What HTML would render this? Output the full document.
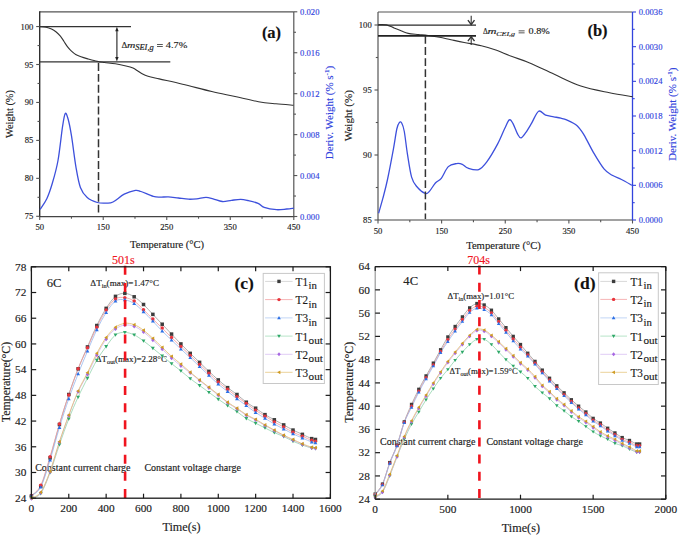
<!DOCTYPE html>
<html><head><meta charset="utf-8"><style>
html,body{margin:0;padding:0;background:#fff;}
body{width:685px;height:535px;overflow:hidden;}
svg{display:block;font-family:"Liberation Serif", serif;}
</style></head><body>
<svg width="685" height="535" viewBox="0 0 685 535">
<rect width="685" height="535" fill="#fff"/>
<line x1="39.70" y1="11.80" x2="293.80" y2="11.80" stroke="#555" stroke-width="1.2" />
<line x1="293.80" y1="11.80" x2="293.80" y2="216.50" stroke="#555" stroke-width="1.2" />
<line x1="39.10" y1="216.50" x2="294.40" y2="216.50" stroke="#444" stroke-width="1.25" />
<line x1="39.70" y1="11.20" x2="39.70" y2="217.10" stroke="#2a2a2a" stroke-width="1.35" />
<line x1="39.70" y1="216.50" x2="39.70" y2="220.00" stroke="#555" stroke-width="1.1" />
<line x1="71.46" y1="216.50" x2="71.46" y2="218.70" stroke="#555" stroke-width="1.1" />
<line x1="103.23" y1="216.50" x2="103.23" y2="220.00" stroke="#555" stroke-width="1.1" />
<line x1="134.99" y1="216.50" x2="134.99" y2="218.70" stroke="#555" stroke-width="1.1" />
<line x1="166.75" y1="216.50" x2="166.75" y2="220.00" stroke="#555" stroke-width="1.1" />
<line x1="198.51" y1="216.50" x2="198.51" y2="218.70" stroke="#555" stroke-width="1.1" />
<line x1="230.27" y1="216.50" x2="230.27" y2="220.00" stroke="#555" stroke-width="1.1" />
<line x1="262.04" y1="216.50" x2="262.04" y2="218.70" stroke="#555" stroke-width="1.1" />
<line x1="293.80" y1="216.50" x2="293.80" y2="220.00" stroke="#555" stroke-width="1.1" />
<text x="39.70" y="230.10" font-size="8.6" fill="#1a1a1a" stroke="#1a1a1a" stroke-width="0.15" text-anchor="middle" font-weight="normal" font-style="normal" >50</text>
<text x="103.23" y="230.10" font-size="8.6" fill="#1a1a1a" stroke="#1a1a1a" stroke-width="0.15" text-anchor="middle" font-weight="normal" font-style="normal" >150</text>
<text x="166.75" y="230.10" font-size="8.6" fill="#1a1a1a" stroke="#1a1a1a" stroke-width="0.15" text-anchor="middle" font-weight="normal" font-style="normal" >250</text>
<text x="230.27" y="230.10" font-size="8.6" fill="#1a1a1a" stroke="#1a1a1a" stroke-width="0.15" text-anchor="middle" font-weight="normal" font-style="normal" >350</text>
<text x="293.80" y="230.10" font-size="8.6" fill="#1a1a1a" stroke="#1a1a1a" stroke-width="0.15" text-anchor="middle" font-weight="normal" font-style="normal" >450</text>
<line x1="36.20" y1="216.30" x2="39.70" y2="216.30" stroke="#555" stroke-width="1.1" />
<line x1="37.50" y1="197.33" x2="39.70" y2="197.33" stroke="#555" stroke-width="1.1" />
<line x1="36.20" y1="178.35" x2="39.70" y2="178.35" stroke="#555" stroke-width="1.1" />
<line x1="37.50" y1="159.38" x2="39.70" y2="159.38" stroke="#555" stroke-width="1.1" />
<line x1="36.20" y1="140.40" x2="39.70" y2="140.40" stroke="#555" stroke-width="1.1" />
<line x1="37.50" y1="121.43" x2="39.70" y2="121.43" stroke="#555" stroke-width="1.1" />
<line x1="36.20" y1="102.45" x2="39.70" y2="102.45" stroke="#555" stroke-width="1.1" />
<line x1="37.50" y1="83.48" x2="39.70" y2="83.48" stroke="#555" stroke-width="1.1" />
<line x1="36.20" y1="64.50" x2="39.70" y2="64.50" stroke="#555" stroke-width="1.1" />
<line x1="37.50" y1="45.53" x2="39.70" y2="45.53" stroke="#555" stroke-width="1.1" />
<line x1="36.20" y1="26.55" x2="39.70" y2="26.55" stroke="#555" stroke-width="1.1" />
<text x="33.40" y="219.30" font-size="8.6" fill="#1a1a1a" stroke="#1a1a1a" stroke-width="0.15" text-anchor="end" font-weight="normal" font-style="normal" >75</text>
<text x="33.40" y="181.35" font-size="8.6" fill="#1a1a1a" stroke="#1a1a1a" stroke-width="0.15" text-anchor="end" font-weight="normal" font-style="normal" >80</text>
<text x="33.40" y="143.40" font-size="8.6" fill="#1a1a1a" stroke="#1a1a1a" stroke-width="0.15" text-anchor="end" font-weight="normal" font-style="normal" >85</text>
<text x="33.40" y="105.45" font-size="8.6" fill="#1a1a1a" stroke="#1a1a1a" stroke-width="0.15" text-anchor="end" font-weight="normal" font-style="normal" >90</text>
<text x="33.40" y="67.50" font-size="8.6" fill="#1a1a1a" stroke="#1a1a1a" stroke-width="0.15" text-anchor="end" font-weight="normal" font-style="normal" >95</text>
<text x="33.40" y="29.55" font-size="8.6" fill="#1a1a1a" stroke="#1a1a1a" stroke-width="0.15" text-anchor="end" font-weight="normal" font-style="normal" >100</text>
<line x1="293.80" y1="216.50" x2="297.30" y2="216.50" stroke="#555" stroke-width="1.1" />
<line x1="293.80" y1="196.03" x2="296.00" y2="196.03" stroke="#555" stroke-width="1.1" />
<line x1="293.80" y1="175.56" x2="297.30" y2="175.56" stroke="#555" stroke-width="1.1" />
<line x1="293.80" y1="155.09" x2="296.00" y2="155.09" stroke="#555" stroke-width="1.1" />
<line x1="293.80" y1="134.62" x2="297.30" y2="134.62" stroke="#555" stroke-width="1.1" />
<line x1="293.80" y1="114.15" x2="296.00" y2="114.15" stroke="#555" stroke-width="1.1" />
<line x1="293.80" y1="93.68" x2="297.30" y2="93.68" stroke="#555" stroke-width="1.1" />
<line x1="293.80" y1="73.21" x2="296.00" y2="73.21" stroke="#555" stroke-width="1.1" />
<line x1="293.80" y1="52.74" x2="297.30" y2="52.74" stroke="#555" stroke-width="1.1" />
<line x1="293.80" y1="32.27" x2="296.00" y2="32.27" stroke="#555" stroke-width="1.1" />
<line x1="293.80" y1="11.80" x2="297.30" y2="11.80" stroke="#555" stroke-width="1.1" />
<text x="300.10" y="219.50" font-size="8.6" fill="#3344dd" stroke="#3344dd" stroke-width="0.15" text-anchor="start" font-weight="normal" font-style="normal" >0.000</text>
<text x="300.10" y="178.56" font-size="8.6" fill="#3344dd" stroke="#3344dd" stroke-width="0.15" text-anchor="start" font-weight="normal" font-style="normal" >0.004</text>
<text x="300.10" y="137.62" font-size="8.6" fill="#3344dd" stroke="#3344dd" stroke-width="0.15" text-anchor="start" font-weight="normal" font-style="normal" >0.008</text>
<text x="300.10" y="96.68" font-size="8.6" fill="#3344dd" stroke="#3344dd" stroke-width="0.15" text-anchor="start" font-weight="normal" font-style="normal" >0.012</text>
<text x="300.10" y="55.74" font-size="8.6" fill="#3344dd" stroke="#3344dd" stroke-width="0.15" text-anchor="start" font-weight="normal" font-style="normal" >0.016</text>
<text x="300.10" y="14.80" font-size="8.6" fill="#3344dd" stroke="#3344dd" stroke-width="0.15" text-anchor="start" font-weight="normal" font-style="normal" >0.020</text>
<text transform="translate(12.6,114) rotate(-90)" font-size="10.4" fill="#222" stroke="#222" stroke-width="0.15" text-anchor="middle">Weight (%)</text>
<text transform="translate(332.9,112.5) rotate(-90)" font-size="11.0" fill="#3344dd" stroke="#3344dd" stroke-width="0.15" text-anchor="middle">Deriv. Weight (% s<tspan font-size="7" dy="-4">-1</tspan><tspan dy="4">)</tspan></text>
<text x="167.00" y="247.60" font-size="10.52" fill="#222" stroke="#222" stroke-width="0.15" text-anchor="middle" font-weight="normal" font-style="normal" >Temperature (°C)</text>
<text x="271.50" y="38.30" font-size="16.5" fill="#111" stroke="#111" stroke-width="0.15" text-anchor="middle" font-weight="bold" font-style="normal" >(a)</text>
<path d="M40.00,209.50 C41.13,207.70 44.73,203.12 46.80,198.70 C48.87,194.28 50.53,189.37 52.40,183.00 C54.27,176.63 56.32,169.85 58.00,160.50 C59.68,151.15 61.30,134.72 62.50,126.90 C63.70,119.08 64.27,114.92 65.20,113.60 C66.13,112.28 67.05,115.28 68.10,119.00 C69.15,122.72 70.18,127.85 71.50,135.90 C72.82,143.95 74.52,158.72 76.00,167.30 C77.48,175.88 78.53,182.37 80.40,187.40 C82.27,192.43 84.38,194.98 87.20,197.50 C90.02,200.02 94.13,201.57 97.30,202.50 C100.47,203.43 103.58,203.18 106.20,203.10 C108.82,203.02 110.00,203.48 113.00,202.00 C116.00,200.52 120.47,196.13 124.20,194.20 C127.93,192.27 132.60,190.85 135.40,190.40 C138.20,189.95 138.02,190.50 141.00,191.50 C143.98,192.50 150.13,195.45 153.30,196.40 C156.47,197.35 157.52,197.13 160.00,197.20 C162.48,197.27 165.13,196.67 168.20,196.80 C171.27,196.93 175.00,197.60 178.40,198.00 C181.80,198.40 185.53,199.07 188.60,199.20 C191.67,199.33 193.90,199.10 196.80,198.80 C199.70,198.50 203.28,197.40 206.00,197.40 C208.72,197.40 210.38,198.12 213.10,198.80 C215.82,199.48 219.23,201.25 222.30,201.50 C225.37,201.75 228.43,200.65 231.50,200.30 C234.57,199.95 237.97,199.37 240.70,199.40 C243.43,199.43 245.00,199.85 247.90,200.50 C250.80,201.15 255.38,202.15 258.10,203.30 C260.82,204.45 261.13,206.33 264.20,207.40 C267.27,208.47 272.75,209.43 276.50,209.70 C280.25,209.97 283.80,209.25 286.70,209.00 C289.60,208.75 292.70,208.33 293.90,208.20" fill="none" stroke="#3d50dc" stroke-width="1.3"/>
<path d="M39.70,26.60 C40.77,26.70 44.13,26.80 46.10,27.20 C48.07,27.60 49.87,28.25 51.50,29.00 C53.13,29.75 54.42,30.52 55.90,31.70 C57.38,32.88 59.05,34.47 60.40,36.10 C61.75,37.73 62.80,39.70 64.00,41.50 C65.20,43.30 66.40,45.33 67.60,46.90 C68.80,48.47 69.85,49.63 71.20,50.90 C72.55,52.17 74.07,53.52 75.70,54.50 C77.33,55.48 78.92,56.05 81.00,56.80 C83.08,57.55 85.50,58.23 88.20,59.00 C90.90,59.77 94.48,60.82 97.20,61.40 C99.92,61.98 101.47,62.10 104.50,62.50 C107.53,62.90 111.82,63.22 115.40,63.80 C118.98,64.38 123.07,65.28 126.00,66.00 C128.93,66.72 131.08,67.30 133.00,68.10 C134.92,68.90 136.05,69.90 137.50,70.80 C138.95,71.70 139.95,72.60 141.70,73.50 C143.45,74.40 145.08,75.30 148.00,76.20 C150.92,77.10 153.43,77.57 159.20,78.90 C164.97,80.23 173.83,82.10 182.60,84.20 C191.37,86.30 203.05,89.45 211.80,91.50 C220.55,93.55 227.32,94.80 235.10,96.50 C242.88,98.20 251.68,100.48 258.50,101.70 C265.32,102.92 270.17,103.22 276.00,103.80 C281.83,104.38 290.58,104.97 293.50,105.20" fill="none" stroke="#333" stroke-width="1.1"/>
<line x1="40.00" y1="26.60" x2="131.00" y2="26.60" stroke="#333" stroke-width="1.2" />
<line x1="40.00" y1="61.80" x2="170.30" y2="61.80" stroke="#333" stroke-width="1.2" />
<line x1="98.50" y1="63.00" x2="98.50" y2="214.00" stroke="#333" stroke-width="1.5" stroke-dasharray="7.9 3"/>
<line x1="116.90" y1="30.50" x2="116.90" y2="58.00" stroke="#333" stroke-width="1.2" />
<path d="M116.9,26.8 L115.2,31.3 L118.6,31.3 Z" fill="#222"/>
<path d="M116.9,61.5 L115.2,57 L118.6,57 Z" fill="#222"/>
<text x="121.5" y="47.8" font-size="9.2" fill="#222" stroke="#222" stroke-width="0.15" textLength="5.8" lengthAdjust="spacingAndGlyphs">Δ</text>
<text x="127.0" y="47.8" font-size="9.2" fill="#222" stroke="#222" stroke-width="0.15" font-style="italic" textLength="8.4" lengthAdjust="spacingAndGlyphs">m</text>
<text x="135.2" y="49.74" font-size="7.2" fill="#222" stroke="#222" stroke-width="0.15" font-style="italic" textLength="18.6" lengthAdjust="spacingAndGlyphs">SEI,g</text>
<path d="M157.00,44.50 h5.80 M157.00,46.50 h5.80" stroke="#444" stroke-width="0.9" fill="none"/>
<text x="165.8" y="47.8" font-size="9.2" fill="#222" stroke="#222" stroke-width="0.15" textLength="21.6" lengthAdjust="spacingAndGlyphs">4.7%</text>
<line x1="378.00" y1="12.00" x2="632.50" y2="12.00" stroke="#555" stroke-width="1.2" />
<line x1="378.00" y1="12.00" x2="378.00" y2="220.00" stroke="#555" stroke-width="1.2" />
<line x1="378.00" y1="220.00" x2="632.50" y2="220.00" stroke="#444" stroke-width="1.2" />
<line x1="632.50" y1="12.00" x2="632.50" y2="220.00" stroke="#3344dd" stroke-width="1.3" />
<line x1="378.00" y1="220.00" x2="378.00" y2="223.50" stroke="#555" stroke-width="1.1" />
<line x1="409.81" y1="220.00" x2="409.81" y2="222.20" stroke="#555" stroke-width="1.1" />
<line x1="441.62" y1="220.00" x2="441.62" y2="223.50" stroke="#555" stroke-width="1.1" />
<line x1="473.44" y1="220.00" x2="473.44" y2="222.20" stroke="#555" stroke-width="1.1" />
<line x1="505.25" y1="220.00" x2="505.25" y2="223.50" stroke="#555" stroke-width="1.1" />
<line x1="537.06" y1="220.00" x2="537.06" y2="222.20" stroke="#555" stroke-width="1.1" />
<line x1="568.88" y1="220.00" x2="568.88" y2="223.50" stroke="#555" stroke-width="1.1" />
<line x1="600.69" y1="220.00" x2="600.69" y2="222.20" stroke="#555" stroke-width="1.1" />
<line x1="632.50" y1="220.00" x2="632.50" y2="223.50" stroke="#555" stroke-width="1.1" />
<text x="378.00" y="234.30" font-size="8.6" fill="#1a1a1a" stroke="#1a1a1a" stroke-width="0.15" text-anchor="middle" font-weight="normal" font-style="normal" >50</text>
<text x="441.62" y="234.30" font-size="8.6" fill="#1a1a1a" stroke="#1a1a1a" stroke-width="0.15" text-anchor="middle" font-weight="normal" font-style="normal" >150</text>
<text x="505.25" y="234.30" font-size="8.6" fill="#1a1a1a" stroke="#1a1a1a" stroke-width="0.15" text-anchor="middle" font-weight="normal" font-style="normal" >250</text>
<text x="568.88" y="234.30" font-size="8.6" fill="#1a1a1a" stroke="#1a1a1a" stroke-width="0.15" text-anchor="middle" font-weight="normal" font-style="normal" >350</text>
<text x="632.50" y="234.30" font-size="8.6" fill="#1a1a1a" stroke="#1a1a1a" stroke-width="0.15" text-anchor="middle" font-weight="normal" font-style="normal" >450</text>
<line x1="374.50" y1="220.00" x2="378.00" y2="220.00" stroke="#555" stroke-width="1.1" />
<line x1="375.80" y1="187.50" x2="378.00" y2="187.50" stroke="#555" stroke-width="1.1" />
<line x1="374.50" y1="155.00" x2="378.00" y2="155.00" stroke="#555" stroke-width="1.1" />
<line x1="375.80" y1="122.50" x2="378.00" y2="122.50" stroke="#555" stroke-width="1.1" />
<line x1="374.50" y1="90.00" x2="378.00" y2="90.00" stroke="#555" stroke-width="1.1" />
<line x1="375.80" y1="57.50" x2="378.00" y2="57.50" stroke="#555" stroke-width="1.1" />
<line x1="374.50" y1="25.00" x2="378.00" y2="25.00" stroke="#555" stroke-width="1.1" />
<text x="371.70" y="223.00" font-size="8.6" fill="#1a1a1a" stroke="#1a1a1a" stroke-width="0.15" text-anchor="end" font-weight="normal" font-style="normal" >85</text>
<text x="371.70" y="158.00" font-size="8.6" fill="#1a1a1a" stroke="#1a1a1a" stroke-width="0.15" text-anchor="end" font-weight="normal" font-style="normal" >90</text>
<text x="371.70" y="93.00" font-size="8.6" fill="#1a1a1a" stroke="#1a1a1a" stroke-width="0.15" text-anchor="end" font-weight="normal" font-style="normal" >95</text>
<text x="371.70" y="28.00" font-size="8.6" fill="#1a1a1a" stroke="#1a1a1a" stroke-width="0.15" text-anchor="end" font-weight="normal" font-style="normal" >100</text>
<line x1="632.50" y1="220.00" x2="636.00" y2="220.00" stroke="#3344dd" stroke-width="1.1" />
<line x1="632.50" y1="202.67" x2="634.70" y2="202.67" stroke="#3344dd" stroke-width="1.1" />
<line x1="632.50" y1="185.33" x2="636.00" y2="185.33" stroke="#3344dd" stroke-width="1.1" />
<line x1="632.50" y1="168.00" x2="634.70" y2="168.00" stroke="#3344dd" stroke-width="1.1" />
<line x1="632.50" y1="150.67" x2="636.00" y2="150.67" stroke="#3344dd" stroke-width="1.1" />
<line x1="632.50" y1="133.33" x2="634.70" y2="133.33" stroke="#3344dd" stroke-width="1.1" />
<line x1="632.50" y1="116.00" x2="636.00" y2="116.00" stroke="#3344dd" stroke-width="1.1" />
<line x1="632.50" y1="98.67" x2="634.70" y2="98.67" stroke="#3344dd" stroke-width="1.1" />
<line x1="632.50" y1="81.33" x2="636.00" y2="81.33" stroke="#3344dd" stroke-width="1.1" />
<line x1="632.50" y1="64.00" x2="634.70" y2="64.00" stroke="#3344dd" stroke-width="1.1" />
<line x1="632.50" y1="46.67" x2="636.00" y2="46.67" stroke="#3344dd" stroke-width="1.1" />
<line x1="632.50" y1="29.33" x2="634.70" y2="29.33" stroke="#3344dd" stroke-width="1.1" />
<line x1="632.50" y1="12.00" x2="636.00" y2="12.00" stroke="#3344dd" stroke-width="1.1" />
<text x="638.80" y="223.00" font-size="8.6" fill="#3344dd" stroke="#3344dd" stroke-width="0.15" text-anchor="start" font-weight="normal" font-style="normal" >0.0000</text>
<text x="638.80" y="188.33" font-size="8.6" fill="#3344dd" stroke="#3344dd" stroke-width="0.15" text-anchor="start" font-weight="normal" font-style="normal" >0.0006</text>
<text x="638.80" y="153.67" font-size="8.6" fill="#3344dd" stroke="#3344dd" stroke-width="0.15" text-anchor="start" font-weight="normal" font-style="normal" >0.0012</text>
<text x="638.80" y="119.00" font-size="8.6" fill="#3344dd" stroke="#3344dd" stroke-width="0.15" text-anchor="start" font-weight="normal" font-style="normal" >0.0018</text>
<text x="638.80" y="84.33" font-size="8.6" fill="#3344dd" stroke="#3344dd" stroke-width="0.15" text-anchor="start" font-weight="normal" font-style="normal" >0.0024</text>
<text x="638.80" y="49.67" font-size="8.6" fill="#3344dd" stroke="#3344dd" stroke-width="0.15" text-anchor="start" font-weight="normal" font-style="normal" >0.0030</text>
<text x="638.80" y="15.00" font-size="8.6" fill="#3344dd" stroke="#3344dd" stroke-width="0.15" text-anchor="start" font-weight="normal" font-style="normal" >0.0036</text>
<text transform="translate(351.6,115.6) rotate(-90)" font-size="11.1" fill="#222" stroke="#222" stroke-width="0.15" text-anchor="middle">Weight (%)</text>
<text transform="translate(675.6,114.2) rotate(-90)" font-size="11.0" fill="#3344dd" stroke="#3344dd" stroke-width="0.15" text-anchor="middle">Deriv. Weight (% s<tspan font-size="7" dy="-4">-1</tspan><tspan dy="4">)</tspan></text>
<text x="503.50" y="249.20" font-size="10.65" fill="#222" stroke="#222" stroke-width="0.15" text-anchor="middle" font-weight="normal" font-style="normal" >Temperature (°C)</text>
<text x="597.50" y="35.50" font-size="16.5" fill="#111" stroke="#111" stroke-width="0.15" text-anchor="middle" font-weight="bold" font-style="normal" >(b)</text>
<path d="M378.60,213.30 C379.32,210.78 381.42,203.83 382.90,198.20 C384.38,192.57 385.75,187.68 387.50,179.50 C389.25,171.32 391.85,157.52 393.40,149.10 C394.95,140.68 395.82,133.42 396.80,129.00 C397.78,124.58 398.47,123.57 399.30,122.60 C400.13,121.63 400.97,121.72 401.80,123.20 C402.63,124.68 403.37,126.40 404.30,131.50 C405.23,136.60 406.18,146.20 407.40,153.80 C408.62,161.40 410.05,171.65 411.60,177.10 C413.15,182.55 414.40,183.77 416.70,186.50 C419.00,189.23 423.25,192.73 425.40,193.50 C427.55,194.27 427.93,192.85 429.60,191.10 C431.27,189.35 433.45,185.13 435.40,183.00 C437.35,180.87 439.15,181.03 441.30,178.30 C443.45,175.57 445.77,169.05 448.30,166.60 C450.83,164.15 454.17,163.98 456.50,163.60 C458.83,163.22 460.35,163.53 462.30,164.30 C464.25,165.07 465.47,167.32 468.20,168.20 C470.93,169.08 475.60,170.65 478.70,169.60 C481.80,168.55 483.68,166.10 486.80,161.90 C489.92,157.70 494.42,149.97 497.40,144.40 C500.38,138.83 502.72,132.58 504.70,128.50 C506.68,124.42 507.93,120.75 509.30,119.90 C510.67,119.05 511.53,121.07 512.90,123.40 C514.27,125.73 516.15,131.48 517.50,133.90 C518.85,136.32 519.63,138.10 521.00,137.90 C522.37,137.70 523.95,135.12 525.70,132.70 C527.45,130.28 529.35,126.98 531.50,123.40 C533.65,119.82 536.25,112.57 538.60,111.20 C540.95,109.83 543.07,114.27 545.60,115.20 C548.13,116.13 551.27,116.30 553.80,116.80 C556.33,117.30 558.67,117.68 560.80,118.20 C562.93,118.72 563.88,118.65 566.60,119.90 C569.32,121.15 574.18,123.17 577.10,125.70 C580.02,128.23 581.37,130.62 584.10,135.10 C586.83,139.58 590.18,146.97 593.50,152.60 C596.82,158.23 600.88,165.12 604.00,168.90 C607.12,172.68 609.28,173.53 612.20,175.30 C615.12,177.07 618.20,177.83 621.50,179.50 C624.80,181.17 630.25,184.33 632.00,185.30" fill="none" stroke="#3d50dc" stroke-width="1.3"/>
<path d="M378.00,24.70 C379.40,24.73 383.73,24.37 386.40,24.90 C389.07,25.43 391.47,26.87 394.00,27.90 C396.53,28.93 399.23,30.18 401.60,31.10 C403.97,32.02 405.35,32.83 408.20,33.40 C411.05,33.97 415.38,34.15 418.70,34.50 C422.02,34.85 424.63,35.05 428.10,35.50 C431.57,35.95 435.70,36.50 439.50,37.20 C443.30,37.90 446.78,38.82 450.90,39.70 C455.02,40.58 459.13,41.50 464.20,42.50 C469.27,43.50 476.17,44.48 481.30,45.70 C486.43,46.92 489.98,48.03 495.00,49.80 C500.02,51.57 505.62,54.12 511.40,56.30 C517.18,58.48 522.55,59.90 529.70,62.90 C536.85,65.90 545.78,70.45 554.30,74.30 C562.82,78.15 571.60,82.93 580.80,86.00 C590.00,89.07 600.90,90.93 609.50,92.70 C618.10,94.47 628.58,95.95 632.40,96.60" fill="none" stroke="#333" stroke-width="1.1"/>
<line x1="378.00" y1="25.00" x2="476.00" y2="25.00" stroke="#2a2a2a" stroke-width="1.25" />
<line x1="378.00" y1="35.90" x2="476.00" y2="35.90" stroke="#222" stroke-width="1.8" />
<line x1="425.40" y1="36.00" x2="425.40" y2="219.00" stroke="#333" stroke-width="1.5" stroke-dasharray="7.8 3.3"/>
<line x1="471.20" y1="15.80" x2="471.20" y2="24.50" stroke="#333" stroke-width="1.1" />
<path d="M467.9,20.2 L471.2,24.6 L474.5,20.2" fill="none" stroke="#333" stroke-width="1.4"/>
<line x1="471.20" y1="36.50" x2="471.20" y2="45.00" stroke="#333" stroke-width="1.1" />
<path d="M467.9,41.1 L471.2,36.7 L474.5,41.1" fill="none" stroke="#333" stroke-width="1.4"/>
<text x="483.1" y="33.8" font-size="7.8" fill="#222" stroke="#222" stroke-width="0.15" textLength="4.8" lengthAdjust="spacingAndGlyphs">Δ</text>
<text x="487.6" y="33.8" font-size="7.8" fill="#222" stroke="#222" stroke-width="0.15" font-style="italic" textLength="9.0" lengthAdjust="spacingAndGlyphs">m</text>
<text x="496.3" y="35.58" font-size="6.6" fill="#222" stroke="#222" stroke-width="0.15" font-style="italic" textLength="18.8" lengthAdjust="spacingAndGlyphs">CEI,g</text>
<path d="M518.60,30.85 h6.00 M518.60,32.85 h6.00" stroke="#444" stroke-width="0.9" fill="none"/>
<text x="528.6" y="33.8" font-size="7.8" fill="#222" stroke="#222" stroke-width="0.15" textLength="21.2" lengthAdjust="spacingAndGlyphs">0.8%</text>
<text x="35.20" y="471.00" font-size="10" fill="#222" stroke="#222" stroke-width="0.15" text-anchor="start" font-weight="normal" font-style="normal" >Constant current charge</text>
<text x="144.40" y="471.00" font-size="10" fill="#222" stroke="#222" stroke-width="0.15" text-anchor="start" font-weight="normal" font-style="normal" >Constant voltage charge</text>
<text x="90.3" y="285.9" font-size="9.1" fill="#222" stroke="#222" stroke-width="0.15">ΔT<tspan font-size="6.3" dy="2">in</tspan><tspan dy="-2">(max)=1.47°C</tspan></text>
<text x="95.8" y="362.3" font-size="9.0" fill="#222" stroke="#222" stroke-width="0.15">ΔT<tspan font-size="6.2" dy="2">out</tspan><tspan dy="-2">(max)=2.28°C</tspan></text>
<path d="M31.40,496.06 C32.96,494.41 37.63,492.56 40.74,486.20 C43.86,479.85 46.97,468.20 50.09,457.92 C53.20,447.63 56.32,435.06 59.43,424.49 C62.55,413.92 65.66,403.78 68.78,394.50 C71.89,385.21 75.00,376.71 78.12,368.79 C81.23,360.86 84.35,354.15 87.46,346.93 C90.58,339.72 93.69,331.93 96.81,325.51 C99.92,319.08 103.04,313.22 106.15,308.37 C109.26,303.51 112.38,298.87 115.49,296.37 C118.61,293.87 121.72,293.30 124.84,293.37 C127.95,293.44 131.07,294.94 134.18,296.80 C137.30,298.65 140.41,301.58 143.53,304.51 C146.64,307.44 149.75,311.08 152.87,314.37 C155.98,317.65 159.10,320.94 162.21,324.22 C165.33,327.51 168.44,330.79 171.56,334.08 C174.67,337.36 177.79,340.72 180.90,343.93 C184.01,347.15 187.13,350.29 190.24,353.36 C193.36,356.43 196.47,359.36 199.59,362.36 C202.70,365.36 205.82,368.43 208.93,371.36 C212.05,374.29 215.16,377.21 218.28,379.93 C221.39,382.64 224.50,385.21 227.62,387.64 C230.73,390.07 233.85,392.07 236.96,394.50 C240.08,396.93 243.19,399.93 246.31,402.21 C249.42,404.50 252.54,406.14 255.65,408.21 C258.76,410.28 261.88,412.71 264.99,414.64 C268.11,416.57 271.22,418.07 274.34,419.78 C277.45,421.50 280.57,423.21 283.68,424.92 C286.80,426.64 289.91,428.49 293.02,430.07 C296.14,431.64 299.25,432.92 302.37,434.35 C305.48,435.78 309.53,437.78 311.71,438.64 C313.89,439.49 314.83,439.35 315.45,439.49" fill="none" stroke="#9a9a9a" stroke-width="0.8"/>
<path d="M31.40,495.63 C32.96,493.91 37.63,491.84 40.74,485.34 C43.86,478.85 46.97,466.85 50.09,456.63 C53.20,446.42 56.32,434.35 59.43,424.07 C62.55,413.78 65.66,404.14 68.78,394.93 C71.89,385.71 75.00,376.64 78.12,368.79 C81.23,360.93 84.35,354.72 87.46,347.79 C90.58,340.86 93.69,333.51 96.81,327.22 C99.92,320.94 103.04,314.79 106.15,310.08 C109.26,305.37 112.38,301.01 115.49,298.94 C118.61,296.87 121.72,297.30 124.84,297.65 C127.95,298.01 131.07,299.08 134.18,301.08 C137.30,303.08 140.41,306.65 143.53,309.65 C146.64,312.65 149.75,316.01 152.87,319.08 C155.98,322.15 159.10,325.01 162.21,328.08 C165.33,331.15 168.44,334.43 171.56,337.51 C174.67,340.58 177.79,343.50 180.90,346.50 C184.01,349.50 187.13,352.50 190.24,355.50 C193.36,358.50 196.47,361.54 199.59,364.50 C202.70,367.47 205.82,370.36 208.93,373.29 C212.05,376.22 215.16,379.39 218.28,382.07 C221.39,384.75 224.50,386.93 227.62,389.36 C230.73,391.78 233.85,394.28 236.96,396.64 C240.08,399.00 243.19,401.21 246.31,403.50 C249.42,405.78 252.54,408.25 255.65,410.35 C258.76,412.46 261.88,414.21 264.99,416.14 C268.11,418.07 271.22,420.10 274.34,421.92 C277.45,423.74 280.57,425.35 283.68,427.07 C286.80,428.78 289.91,430.67 293.02,432.21 C296.14,433.74 299.25,434.92 302.37,436.28 C305.48,437.64 309.53,439.53 311.71,440.35 C313.89,441.17 314.83,441.06 315.45,441.21" fill="none" stroke="#f29a9c" stroke-width="0.8"/>
<path d="M31.40,495.41 C32.96,494.02 37.63,492.95 40.74,487.06 C43.86,481.17 46.97,469.99 50.09,460.06 C53.20,450.13 56.32,437.71 59.43,427.49 C62.55,417.28 65.66,407.71 68.78,398.78 C71.89,389.86 75.00,381.86 78.12,373.93 C81.23,366.00 84.35,358.57 87.46,351.22 C90.58,343.86 93.69,336.22 96.81,329.79 C99.92,323.36 103.04,317.44 106.15,312.65 C109.26,307.87 112.38,303.22 115.49,301.08 C118.61,298.94 121.72,299.37 124.84,299.80 C127.95,300.22 131.07,301.65 134.18,303.65 C137.30,305.65 140.41,308.87 143.53,311.79 C146.64,314.72 149.75,318.01 152.87,321.22 C155.98,324.44 159.10,327.94 162.21,331.08 C165.33,334.22 168.44,337.08 171.56,340.08 C174.67,343.08 177.79,346.15 180.90,349.08 C184.01,352.00 187.13,354.72 190.24,357.65 C193.36,360.57 196.47,363.68 199.59,366.64 C202.70,369.61 205.82,372.50 208.93,375.43 C212.05,378.36 215.16,381.54 218.28,384.21 C221.39,386.89 224.50,389.07 227.62,391.50 C230.73,393.93 233.85,396.43 236.96,398.78 C240.08,401.14 243.19,403.35 246.31,405.64 C249.42,407.93 252.54,410.39 255.65,412.50 C258.76,414.60 261.88,416.35 264.99,418.28 C268.11,420.21 271.22,422.28 274.34,424.07 C277.45,425.85 280.57,427.35 283.68,428.99 C286.80,430.64 289.91,432.42 293.02,433.92 C296.14,435.42 299.25,436.64 302.37,437.99 C305.48,439.35 309.53,441.24 311.71,442.06 C313.89,442.89 314.83,442.78 315.45,442.92" fill="none" stroke="#98b8ee" stroke-width="0.8"/>
<path d="M31.40,497.99 C32.96,497.24 37.63,497.74 40.74,493.49 C43.86,489.24 46.97,480.63 50.09,472.49 C53.20,464.35 56.32,453.56 59.43,444.64 C62.55,435.71 65.66,426.85 68.78,418.92 C71.89,411.00 75.00,403.85 78.12,397.07 C81.23,390.28 84.35,384.36 87.46,378.21 C90.58,372.07 93.69,365.50 96.81,360.22 C99.92,354.93 103.04,350.72 106.15,346.50 C109.26,342.29 112.38,337.29 115.49,334.93 C118.61,332.58 121.72,332.36 124.84,332.36 C127.95,332.36 131.07,333.51 134.18,334.93 C137.30,336.36 140.41,338.72 143.53,340.93 C146.64,343.15 149.75,345.72 152.87,348.22 C155.98,350.72 159.10,353.36 162.21,355.93 C165.33,358.50 168.44,361.15 171.56,363.65 C174.67,366.14 177.79,368.43 180.90,370.93 C184.01,373.43 187.13,376.22 190.24,378.64 C193.36,381.07 196.47,383.21 199.59,385.50 C202.70,387.79 205.82,390.07 208.93,392.36 C212.05,394.64 215.16,397.00 218.28,399.21 C221.39,401.43 224.50,403.57 227.62,405.64 C230.73,407.71 233.85,409.50 236.96,411.64 C240.08,413.78 243.19,416.57 246.31,418.50 C249.42,420.42 252.54,421.64 255.65,423.21 C258.76,424.78 261.88,426.35 264.99,427.92 C268.11,429.49 271.22,431.21 274.34,432.64 C277.45,434.07 280.57,435.06 283.68,436.49 C286.80,437.92 289.91,439.78 293.02,441.21 C296.14,442.64 299.25,443.92 302.37,445.06 C305.48,446.21 309.53,447.49 311.71,448.06 C313.89,448.63 314.83,448.42 315.45,448.49" fill="none" stroke="#92d4ad" stroke-width="0.8"/>
<path d="M31.40,498.63 C32.96,497.66 37.63,497.31 40.74,492.84 C43.86,488.38 46.97,480.27 50.09,471.85 C53.20,463.42 56.32,451.63 59.43,442.28 C62.55,432.92 65.66,424.14 68.78,415.71 C71.89,407.28 75.00,398.61 78.12,391.71 C81.23,384.82 84.35,380.46 87.46,374.36 C90.58,368.25 93.69,360.93 96.81,355.07 C99.92,349.22 103.04,343.58 106.15,339.22 C109.26,334.86 112.38,331.29 115.49,328.94 C118.61,326.58 121.72,325.51 124.84,325.08 C127.95,324.65 131.07,325.22 134.18,326.36 C137.30,327.51 140.41,329.65 143.53,331.93 C146.64,334.22 149.75,337.22 152.87,340.08 C155.98,342.93 159.10,346.08 162.21,349.08 C165.33,352.08 168.44,355.29 171.56,358.07 C174.67,360.86 177.79,363.32 180.90,365.79 C184.01,368.25 187.13,370.39 190.24,372.86 C193.36,375.32 196.47,378.07 199.59,380.57 C202.70,383.07 205.82,385.43 208.93,387.86 C212.05,390.28 215.16,392.64 218.28,395.14 C221.39,397.64 224.50,400.57 227.62,402.85 C230.73,405.14 233.85,406.78 236.96,408.85 C240.08,410.93 243.19,413.42 246.31,415.28 C249.42,417.14 252.54,418.28 255.65,420.00 C258.76,421.71 261.88,423.78 264.99,425.57 C268.11,427.35 271.22,428.99 274.34,430.71 C277.45,432.42 280.57,434.28 283.68,435.85 C286.80,437.42 289.91,438.71 293.02,440.14 C296.14,441.56 299.25,443.14 302.37,444.42 C305.48,445.71 309.53,447.21 311.71,447.85 C313.89,448.49 314.83,448.21 315.45,448.28" fill="none" stroke="#cfb2f0" stroke-width="0.8"/>
<path d="M31.40,497.99 C32.96,497.02 37.63,496.66 40.74,492.20 C43.86,487.74 46.97,479.63 50.09,471.20 C53.20,462.78 56.32,450.99 59.43,441.64 C62.55,432.28 65.66,423.49 68.78,415.07 C71.89,406.64 75.00,398.14 78.12,391.07 C81.23,384.00 84.35,378.93 87.46,372.64 C90.58,366.36 93.69,359.22 96.81,353.36 C99.92,347.50 103.04,341.86 106.15,337.51 C109.26,333.15 112.38,329.58 115.49,327.22 C118.61,324.86 121.72,323.79 124.84,323.36 C127.95,322.94 131.07,323.51 134.18,324.65 C137.30,325.79 140.41,327.94 143.53,330.22 C146.64,332.51 149.75,335.51 152.87,338.36 C155.98,341.22 159.10,344.36 162.21,347.36 C165.33,350.36 168.44,353.57 171.56,356.36 C174.67,359.15 177.79,361.43 180.90,364.07 C184.01,366.72 187.13,369.57 190.24,372.22 C193.36,374.86 196.47,377.43 199.59,379.93 C202.70,382.43 205.82,384.79 208.93,387.21 C212.05,389.64 215.16,392.00 218.28,394.50 C221.39,397.00 224.50,399.93 227.62,402.21 C230.73,404.50 233.85,406.14 236.96,408.21 C240.08,410.28 243.19,412.78 246.31,414.64 C249.42,416.50 252.54,417.64 255.65,419.35 C258.76,421.07 261.88,423.14 264.99,424.92 C268.11,426.71 271.22,428.35 274.34,430.07 C277.45,431.78 280.57,433.64 283.68,435.21 C286.80,436.78 289.91,438.06 293.02,439.49 C296.14,440.92 299.25,442.49 302.37,443.78 C305.48,445.06 309.53,446.56 311.71,447.21 C313.89,447.85 314.83,447.56 315.45,447.63" fill="none" stroke="#e2be6c" stroke-width="0.8"/>
<rect x="29.65" y="494.31" width="3.50" height="3.50" fill="#3c3c3c"/>
<rect x="38.99" y="484.45" width="3.50" height="3.50" fill="#3c3c3c"/>
<rect x="48.34" y="456.17" width="3.50" height="3.50" fill="#3c3c3c"/>
<rect x="57.68" y="422.74" width="3.50" height="3.50" fill="#3c3c3c"/>
<rect x="67.03" y="392.75" width="3.50" height="3.50" fill="#3c3c3c"/>
<rect x="76.37" y="367.04" width="3.50" height="3.50" fill="#3c3c3c"/>
<rect x="85.71" y="345.18" width="3.50" height="3.50" fill="#3c3c3c"/>
<rect x="95.06" y="323.76" width="3.50" height="3.50" fill="#3c3c3c"/>
<rect x="104.40" y="306.62" width="3.50" height="3.50" fill="#3c3c3c"/>
<rect x="113.74" y="294.62" width="3.50" height="3.50" fill="#3c3c3c"/>
<rect x="123.09" y="291.62" width="3.50" height="3.50" fill="#3c3c3c"/>
<rect x="132.43" y="295.05" width="3.50" height="3.50" fill="#3c3c3c"/>
<rect x="141.78" y="302.76" width="3.50" height="3.50" fill="#3c3c3c"/>
<rect x="151.12" y="312.62" width="3.50" height="3.50" fill="#3c3c3c"/>
<rect x="160.46" y="322.47" width="3.50" height="3.50" fill="#3c3c3c"/>
<rect x="169.81" y="332.33" width="3.50" height="3.50" fill="#3c3c3c"/>
<rect x="179.15" y="342.18" width="3.50" height="3.50" fill="#3c3c3c"/>
<rect x="188.49" y="351.61" width="3.50" height="3.50" fill="#3c3c3c"/>
<rect x="197.84" y="360.61" width="3.50" height="3.50" fill="#3c3c3c"/>
<rect x="207.18" y="369.61" width="3.50" height="3.50" fill="#3c3c3c"/>
<rect x="216.53" y="378.18" width="3.50" height="3.50" fill="#3c3c3c"/>
<rect x="225.87" y="385.89" width="3.50" height="3.50" fill="#3c3c3c"/>
<rect x="235.21" y="392.75" width="3.50" height="3.50" fill="#3c3c3c"/>
<rect x="244.56" y="400.46" width="3.50" height="3.50" fill="#3c3c3c"/>
<rect x="253.90" y="406.46" width="3.50" height="3.50" fill="#3c3c3c"/>
<rect x="263.24" y="412.89" width="3.50" height="3.50" fill="#3c3c3c"/>
<rect x="272.59" y="418.03" width="3.50" height="3.50" fill="#3c3c3c"/>
<rect x="281.93" y="423.17" width="3.50" height="3.50" fill="#3c3c3c"/>
<rect x="291.27" y="428.32" width="3.50" height="3.50" fill="#3c3c3c"/>
<rect x="300.62" y="432.60" width="3.50" height="3.50" fill="#3c3c3c"/>
<rect x="309.96" y="436.89" width="3.50" height="3.50" fill="#3c3c3c"/>
<rect x="313.70" y="437.74" width="3.50" height="3.50" fill="#3c3c3c"/>
<circle cx="31.40" cy="495.63" r="1.75" fill="#e8333b"/>
<circle cx="40.74" cy="485.34" r="1.75" fill="#e8333b"/>
<circle cx="50.09" cy="456.63" r="1.75" fill="#e8333b"/>
<circle cx="59.43" cy="424.07" r="1.75" fill="#e8333b"/>
<circle cx="68.78" cy="394.93" r="1.75" fill="#e8333b"/>
<circle cx="78.12" cy="368.79" r="1.75" fill="#e8333b"/>
<circle cx="87.46" cy="347.79" r="1.75" fill="#e8333b"/>
<circle cx="96.81" cy="327.22" r="1.75" fill="#e8333b"/>
<circle cx="106.15" cy="310.08" r="1.75" fill="#e8333b"/>
<circle cx="115.49" cy="298.94" r="1.75" fill="#e8333b"/>
<circle cx="124.84" cy="297.65" r="1.75" fill="#e8333b"/>
<circle cx="134.18" cy="301.08" r="1.75" fill="#e8333b"/>
<circle cx="143.53" cy="309.65" r="1.75" fill="#e8333b"/>
<circle cx="152.87" cy="319.08" r="1.75" fill="#e8333b"/>
<circle cx="162.21" cy="328.08" r="1.75" fill="#e8333b"/>
<circle cx="171.56" cy="337.51" r="1.75" fill="#e8333b"/>
<circle cx="180.90" cy="346.50" r="1.75" fill="#e8333b"/>
<circle cx="190.24" cy="355.50" r="1.75" fill="#e8333b"/>
<circle cx="199.59" cy="364.50" r="1.75" fill="#e8333b"/>
<circle cx="208.93" cy="373.29" r="1.75" fill="#e8333b"/>
<circle cx="218.28" cy="382.07" r="1.75" fill="#e8333b"/>
<circle cx="227.62" cy="389.36" r="1.75" fill="#e8333b"/>
<circle cx="236.96" cy="396.64" r="1.75" fill="#e8333b"/>
<circle cx="246.31" cy="403.50" r="1.75" fill="#e8333b"/>
<circle cx="255.65" cy="410.35" r="1.75" fill="#e8333b"/>
<circle cx="264.99" cy="416.14" r="1.75" fill="#e8333b"/>
<circle cx="274.34" cy="421.92" r="1.75" fill="#e8333b"/>
<circle cx="283.68" cy="427.07" r="1.75" fill="#e8333b"/>
<circle cx="293.02" cy="432.21" r="1.75" fill="#e8333b"/>
<circle cx="302.37" cy="436.28" r="1.75" fill="#e8333b"/>
<circle cx="311.71" cy="440.35" r="1.75" fill="#e8333b"/>
<circle cx="315.45" cy="441.21" r="1.75" fill="#e8333b"/>
<path d="M31.40,493.49 L33.32,496.81 L29.47,496.81 Z" fill="#2b6fe6"/>
<path d="M40.74,485.13 L42.67,488.46 L38.82,488.46 Z" fill="#2b6fe6"/>
<path d="M50.09,458.14 L52.01,461.46 L48.16,461.46 Z" fill="#2b6fe6"/>
<path d="M59.43,425.57 L61.36,428.89 L57.51,428.89 Z" fill="#2b6fe6"/>
<path d="M68.78,396.86 L70.70,400.18 L66.85,400.18 Z" fill="#2b6fe6"/>
<path d="M78.12,372.00 L80.04,375.33 L76.19,375.33 Z" fill="#2b6fe6"/>
<path d="M87.46,349.29 L89.39,352.62 L85.54,352.62 Z" fill="#2b6fe6"/>
<path d="M96.81,327.87 L98.73,331.19 L94.88,331.19 Z" fill="#2b6fe6"/>
<path d="M106.15,310.73 L108.08,314.05 L104.23,314.05 Z" fill="#2b6fe6"/>
<path d="M115.49,299.16 L117.42,302.48 L113.57,302.48 Z" fill="#2b6fe6"/>
<path d="M124.84,297.87 L126.76,301.20 L122.91,301.20 Z" fill="#2b6fe6"/>
<path d="M134.18,301.73 L136.11,305.05 L132.26,305.05 Z" fill="#2b6fe6"/>
<path d="M143.53,309.87 L145.45,313.19 L141.60,313.19 Z" fill="#2b6fe6"/>
<path d="M152.87,319.30 L154.79,322.62 L150.94,322.62 Z" fill="#2b6fe6"/>
<path d="M162.21,329.15 L164.14,332.48 L160.29,332.48 Z" fill="#2b6fe6"/>
<path d="M171.56,338.15 L173.48,341.48 L169.63,341.48 Z" fill="#2b6fe6"/>
<path d="M180.90,347.15 L182.83,350.48 L178.97,350.48 Z" fill="#2b6fe6"/>
<path d="M190.24,355.72 L192.17,359.05 L188.32,359.05 Z" fill="#2b6fe6"/>
<path d="M199.59,364.72 L201.51,368.04 L197.66,368.04 Z" fill="#2b6fe6"/>
<path d="M208.93,373.50 L210.86,376.83 L207.01,376.83 Z" fill="#2b6fe6"/>
<path d="M218.28,382.29 L220.20,385.61 L216.35,385.61 Z" fill="#2b6fe6"/>
<path d="M227.62,389.57 L229.54,392.90 L225.69,392.90 Z" fill="#2b6fe6"/>
<path d="M236.96,396.86 L238.89,400.18 L235.04,400.18 Z" fill="#2b6fe6"/>
<path d="M246.31,403.71 L248.23,407.04 L244.38,407.04 Z" fill="#2b6fe6"/>
<path d="M255.65,410.57 L257.57,413.90 L253.72,413.90 Z" fill="#2b6fe6"/>
<path d="M264.99,416.36 L266.92,419.68 L263.07,419.68 Z" fill="#2b6fe6"/>
<path d="M274.34,422.14 L276.26,425.47 L272.41,425.47 Z" fill="#2b6fe6"/>
<path d="M283.68,427.07 L285.61,430.39 L281.76,430.39 Z" fill="#2b6fe6"/>
<path d="M293.02,432.00 L294.95,435.32 L291.10,435.32 Z" fill="#2b6fe6"/>
<path d="M302.37,436.07 L304.29,439.39 L300.44,439.39 Z" fill="#2b6fe6"/>
<path d="M311.71,440.14 L313.64,443.46 L309.79,443.46 Z" fill="#2b6fe6"/>
<path d="M315.45,441.00 L317.38,444.32 L313.52,444.32 Z" fill="#2b6fe6"/>
<path d="M31.40,499.91 L33.32,496.59 L29.47,496.59 Z" fill="#2ea868"/>
<path d="M40.74,495.41 L42.67,492.09 L38.82,492.09 Z" fill="#2ea868"/>
<path d="M50.09,474.41 L52.01,471.09 L48.16,471.09 Z" fill="#2ea868"/>
<path d="M59.43,446.56 L61.36,443.24 L57.51,443.24 Z" fill="#2ea868"/>
<path d="M68.78,420.85 L70.70,417.52 L66.85,417.52 Z" fill="#2ea868"/>
<path d="M78.12,398.99 L80.04,395.67 L76.19,395.67 Z" fill="#2ea868"/>
<path d="M87.46,380.14 L89.39,376.81 L85.54,376.81 Z" fill="#2ea868"/>
<path d="M96.81,362.14 L98.73,358.82 L94.88,358.82 Z" fill="#2ea868"/>
<path d="M106.15,348.43 L108.08,345.10 L104.23,345.10 Z" fill="#2ea868"/>
<path d="M115.49,336.86 L117.42,333.53 L113.57,333.53 Z" fill="#2ea868"/>
<path d="M124.84,334.29 L126.76,330.96 L122.91,330.96 Z" fill="#2ea868"/>
<path d="M134.18,336.86 L136.11,333.53 L132.26,333.53 Z" fill="#2ea868"/>
<path d="M143.53,342.86 L145.45,339.53 L141.60,339.53 Z" fill="#2ea868"/>
<path d="M152.87,350.14 L154.79,346.82 L150.94,346.82 Z" fill="#2ea868"/>
<path d="M162.21,357.86 L164.14,354.53 L160.29,354.53 Z" fill="#2ea868"/>
<path d="M171.56,365.57 L173.48,362.25 L169.63,362.25 Z" fill="#2ea868"/>
<path d="M180.90,372.86 L182.83,369.53 L178.97,369.53 Z" fill="#2ea868"/>
<path d="M190.24,380.57 L192.17,377.24 L188.32,377.24 Z" fill="#2ea868"/>
<path d="M199.59,387.42 L201.51,384.10 L197.66,384.10 Z" fill="#2ea868"/>
<path d="M208.93,394.28 L210.86,390.96 L207.01,390.96 Z" fill="#2ea868"/>
<path d="M218.28,401.14 L220.20,397.81 L216.35,397.81 Z" fill="#2ea868"/>
<path d="M227.62,407.56 L229.54,404.24 L225.69,404.24 Z" fill="#2ea868"/>
<path d="M236.96,413.56 L238.89,410.24 L235.04,410.24 Z" fill="#2ea868"/>
<path d="M246.31,420.42 L248.23,417.10 L244.38,417.10 Z" fill="#2ea868"/>
<path d="M255.65,425.13 L257.57,421.81 L253.72,421.81 Z" fill="#2ea868"/>
<path d="M264.99,429.85 L266.92,426.52 L263.07,426.52 Z" fill="#2ea868"/>
<path d="M274.34,434.56 L276.26,431.24 L272.41,431.24 Z" fill="#2ea868"/>
<path d="M283.68,438.42 L285.61,435.09 L281.76,435.09 Z" fill="#2ea868"/>
<path d="M293.02,443.13 L294.95,439.81 L291.10,439.81 Z" fill="#2ea868"/>
<path d="M302.37,446.99 L304.29,443.66 L300.44,443.66 Z" fill="#2ea868"/>
<path d="M311.71,449.99 L313.64,446.66 L309.79,446.66 Z" fill="#2ea868"/>
<path d="M315.45,450.42 L317.38,447.09 L313.52,447.09 Z" fill="#2ea868"/>
<path d="M31.40,496.53 L33.15,498.63 L31.40,500.73 L29.65,498.63 Z" fill="#a767e2"/>
<path d="M40.74,490.74 L42.49,492.84 L40.74,494.94 L38.99,492.84 Z" fill="#a767e2"/>
<path d="M50.09,469.75 L51.84,471.85 L50.09,473.95 L48.34,471.85 Z" fill="#a767e2"/>
<path d="M59.43,440.18 L61.18,442.28 L59.43,444.38 L57.68,442.28 Z" fill="#a767e2"/>
<path d="M68.78,413.61 L70.53,415.71 L68.78,417.81 L67.03,415.71 Z" fill="#a767e2"/>
<path d="M78.12,389.61 L79.87,391.71 L78.12,393.81 L76.37,391.71 Z" fill="#a767e2"/>
<path d="M87.46,372.26 L89.21,374.36 L87.46,376.46 L85.71,374.36 Z" fill="#a767e2"/>
<path d="M96.81,352.97 L98.56,355.07 L96.81,357.17 L95.06,355.07 Z" fill="#a767e2"/>
<path d="M106.15,337.12 L107.90,339.22 L106.15,341.32 L104.40,339.22 Z" fill="#a767e2"/>
<path d="M115.49,326.84 L117.24,328.94 L115.49,331.04 L113.74,328.94 Z" fill="#a767e2"/>
<path d="M124.84,322.98 L126.59,325.08 L124.84,327.18 L123.09,325.08 Z" fill="#a767e2"/>
<path d="M134.18,324.26 L135.93,326.36 L134.18,328.46 L132.43,326.36 Z" fill="#a767e2"/>
<path d="M143.53,329.83 L145.28,331.93 L143.53,334.03 L141.78,331.93 Z" fill="#a767e2"/>
<path d="M152.87,337.98 L154.62,340.08 L152.87,342.18 L151.12,340.08 Z" fill="#a767e2"/>
<path d="M162.21,346.98 L163.96,349.08 L162.21,351.18 L160.46,349.08 Z" fill="#a767e2"/>
<path d="M171.56,355.97 L173.31,358.07 L171.56,360.17 L169.81,358.07 Z" fill="#a767e2"/>
<path d="M180.90,363.69 L182.65,365.79 L180.90,367.89 L179.15,365.79 Z" fill="#a767e2"/>
<path d="M190.24,370.76 L191.99,372.86 L190.24,374.96 L188.49,372.86 Z" fill="#a767e2"/>
<path d="M199.59,378.47 L201.34,380.57 L199.59,382.67 L197.84,380.57 Z" fill="#a767e2"/>
<path d="M208.93,385.76 L210.68,387.86 L208.93,389.96 L207.18,387.86 Z" fill="#a767e2"/>
<path d="M218.28,393.04 L220.03,395.14 L218.28,397.24 L216.53,395.14 Z" fill="#a767e2"/>
<path d="M227.62,400.75 L229.37,402.85 L227.62,404.95 L225.87,402.85 Z" fill="#a767e2"/>
<path d="M236.96,406.75 L238.71,408.85 L236.96,410.95 L235.21,408.85 Z" fill="#a767e2"/>
<path d="M246.31,413.18 L248.06,415.28 L246.31,417.38 L244.56,415.28 Z" fill="#a767e2"/>
<path d="M255.65,417.90 L257.40,420.00 L255.65,422.10 L253.90,420.00 Z" fill="#a767e2"/>
<path d="M264.99,423.47 L266.74,425.57 L264.99,427.67 L263.24,425.57 Z" fill="#a767e2"/>
<path d="M274.34,428.61 L276.09,430.71 L274.34,432.81 L272.59,430.71 Z" fill="#a767e2"/>
<path d="M283.68,433.75 L285.43,435.85 L283.68,437.95 L281.93,435.85 Z" fill="#a767e2"/>
<path d="M293.02,438.04 L294.77,440.14 L293.02,442.24 L291.27,440.14 Z" fill="#a767e2"/>
<path d="M302.37,442.32 L304.12,444.42 L302.37,446.52 L300.62,444.42 Z" fill="#a767e2"/>
<path d="M311.71,445.75 L313.46,447.85 L311.71,449.95 L309.96,447.85 Z" fill="#a767e2"/>
<path d="M315.45,446.18 L317.20,448.28 L315.45,450.38 L313.70,448.28 Z" fill="#a767e2"/>
<path d="M29.47,497.99 L32.80,496.06 L32.80,499.91 Z" fill="#cf9a20"/>
<path d="M38.82,492.20 L42.14,490.28 L42.14,494.13 Z" fill="#cf9a20"/>
<path d="M48.16,471.20 L51.49,469.28 L51.49,473.13 Z" fill="#cf9a20"/>
<path d="M57.51,441.64 L60.83,439.71 L60.83,443.56 Z" fill="#cf9a20"/>
<path d="M66.85,415.07 L70.18,413.14 L70.18,416.99 Z" fill="#cf9a20"/>
<path d="M76.19,391.07 L79.52,389.15 L79.52,393.00 Z" fill="#cf9a20"/>
<path d="M85.54,372.64 L88.86,370.72 L88.86,374.57 Z" fill="#cf9a20"/>
<path d="M94.88,353.36 L98.21,351.44 L98.21,355.29 Z" fill="#cf9a20"/>
<path d="M104.23,337.51 L107.55,335.58 L107.55,339.43 Z" fill="#cf9a20"/>
<path d="M113.57,327.22 L116.89,325.30 L116.89,329.15 Z" fill="#cf9a20"/>
<path d="M122.91,323.36 L126.24,321.44 L126.24,325.29 Z" fill="#cf9a20"/>
<path d="M132.26,324.65 L135.58,322.72 L135.58,326.57 Z" fill="#cf9a20"/>
<path d="M141.60,330.22 L144.93,328.30 L144.93,332.15 Z" fill="#cf9a20"/>
<path d="M150.94,338.36 L154.27,336.44 L154.27,340.29 Z" fill="#cf9a20"/>
<path d="M160.29,347.36 L163.61,345.44 L163.61,349.29 Z" fill="#cf9a20"/>
<path d="M169.63,356.36 L172.96,354.44 L172.96,358.29 Z" fill="#cf9a20"/>
<path d="M178.97,364.07 L182.30,362.15 L182.30,366.00 Z" fill="#cf9a20"/>
<path d="M188.32,372.22 L191.64,370.29 L191.64,374.14 Z" fill="#cf9a20"/>
<path d="M197.66,379.93 L200.99,378.00 L200.99,381.85 Z" fill="#cf9a20"/>
<path d="M207.01,387.21 L210.33,385.29 L210.33,389.14 Z" fill="#cf9a20"/>
<path d="M216.35,394.50 L219.68,392.57 L219.68,396.42 Z" fill="#cf9a20"/>
<path d="M225.69,402.21 L229.02,400.29 L229.02,404.14 Z" fill="#cf9a20"/>
<path d="M235.04,408.21 L238.36,406.29 L238.36,410.14 Z" fill="#cf9a20"/>
<path d="M244.38,414.64 L247.71,412.71 L247.71,416.56 Z" fill="#cf9a20"/>
<path d="M253.72,419.35 L257.05,417.43 L257.05,421.28 Z" fill="#cf9a20"/>
<path d="M263.07,424.92 L266.39,423.00 L266.39,426.85 Z" fill="#cf9a20"/>
<path d="M272.41,430.07 L275.74,428.14 L275.74,431.99 Z" fill="#cf9a20"/>
<path d="M281.76,435.21 L285.08,433.28 L285.08,437.13 Z" fill="#cf9a20"/>
<path d="M291.10,439.49 L294.42,437.57 L294.42,441.42 Z" fill="#cf9a20"/>
<path d="M300.44,443.78 L303.77,441.85 L303.77,445.70 Z" fill="#cf9a20"/>
<path d="M309.79,447.21 L313.11,445.28 L313.11,449.13 Z" fill="#cf9a20"/>
<path d="M313.52,447.63 L316.85,445.71 L316.85,449.56 Z" fill="#cf9a20"/>
<line x1="125.10" y1="265.70" x2="125.10" y2="498.20" stroke="#f0141e" stroke-width="2.6" stroke-dasharray="9 8.18"/>
<rect x="31.4" y="266.8" width="299.0" height="231.39999999999998" fill="none" stroke="#1a1a1a" stroke-width="1.3"/>
<line x1="31.40" y1="498.20" x2="31.40" y2="493.70" stroke="#1a1a1a" stroke-width="1.2" />
<line x1="31.40" y1="266.80" x2="31.40" y2="271.30" stroke="#1a1a1a" stroke-width="1.2" />
<line x1="68.78" y1="498.20" x2="68.78" y2="493.70" stroke="#1a1a1a" stroke-width="1.2" />
<line x1="68.78" y1="266.80" x2="68.78" y2="271.30" stroke="#1a1a1a" stroke-width="1.2" />
<line x1="106.15" y1="498.20" x2="106.15" y2="493.70" stroke="#1a1a1a" stroke-width="1.2" />
<line x1="106.15" y1="266.80" x2="106.15" y2="271.30" stroke="#1a1a1a" stroke-width="1.2" />
<line x1="143.53" y1="498.20" x2="143.53" y2="493.70" stroke="#1a1a1a" stroke-width="1.2" />
<line x1="143.53" y1="266.80" x2="143.53" y2="271.30" stroke="#1a1a1a" stroke-width="1.2" />
<line x1="180.90" y1="498.20" x2="180.90" y2="493.70" stroke="#1a1a1a" stroke-width="1.2" />
<line x1="180.90" y1="266.80" x2="180.90" y2="271.30" stroke="#1a1a1a" stroke-width="1.2" />
<line x1="218.28" y1="498.20" x2="218.28" y2="493.70" stroke="#1a1a1a" stroke-width="1.2" />
<line x1="218.28" y1="266.80" x2="218.28" y2="271.30" stroke="#1a1a1a" stroke-width="1.2" />
<line x1="255.65" y1="498.20" x2="255.65" y2="493.70" stroke="#1a1a1a" stroke-width="1.2" />
<line x1="255.65" y1="266.80" x2="255.65" y2="271.30" stroke="#1a1a1a" stroke-width="1.2" />
<line x1="293.02" y1="498.20" x2="293.02" y2="493.70" stroke="#1a1a1a" stroke-width="1.2" />
<line x1="293.02" y1="266.80" x2="293.02" y2="271.30" stroke="#1a1a1a" stroke-width="1.2" />
<line x1="330.40" y1="498.20" x2="330.40" y2="493.70" stroke="#1a1a1a" stroke-width="1.2" />
<line x1="330.40" y1="266.80" x2="330.40" y2="271.30" stroke="#1a1a1a" stroke-width="1.2" />
<text x="31.40" y="512.20" font-size="11.3" fill="#1a1a1a" stroke="#1a1a1a" stroke-width="0.15" text-anchor="middle" font-weight="normal" font-style="normal" >0</text>
<text x="68.78" y="512.20" font-size="11.3" fill="#1a1a1a" stroke="#1a1a1a" stroke-width="0.15" text-anchor="middle" font-weight="normal" font-style="normal" >200</text>
<text x="106.15" y="512.20" font-size="11.3" fill="#1a1a1a" stroke="#1a1a1a" stroke-width="0.15" text-anchor="middle" font-weight="normal" font-style="normal" >400</text>
<text x="143.53" y="512.20" font-size="11.3" fill="#1a1a1a" stroke="#1a1a1a" stroke-width="0.15" text-anchor="middle" font-weight="normal" font-style="normal" >600</text>
<text x="180.90" y="512.20" font-size="11.3" fill="#1a1a1a" stroke="#1a1a1a" stroke-width="0.15" text-anchor="middle" font-weight="normal" font-style="normal" >800</text>
<text x="218.28" y="512.20" font-size="11.3" fill="#1a1a1a" stroke="#1a1a1a" stroke-width="0.15" text-anchor="middle" font-weight="normal" font-style="normal" >1000</text>
<text x="255.65" y="512.20" font-size="11.3" fill="#1a1a1a" stroke="#1a1a1a" stroke-width="0.15" text-anchor="middle" font-weight="normal" font-style="normal" >1200</text>
<text x="293.02" y="512.20" font-size="11.3" fill="#1a1a1a" stroke="#1a1a1a" stroke-width="0.15" text-anchor="middle" font-weight="normal" font-style="normal" >1400</text>
<text x="330.40" y="512.20" font-size="11.3" fill="#1a1a1a" stroke="#1a1a1a" stroke-width="0.15" text-anchor="middle" font-weight="normal" font-style="normal" >1600</text>
<line x1="31.40" y1="498.20" x2="36.20" y2="498.20" stroke="#1a1a1a" stroke-width="1.2" />
<line x1="330.40" y1="498.20" x2="325.60" y2="498.20" stroke="#1a1a1a" stroke-width="1.2" />
<line x1="31.40" y1="472.49" x2="36.20" y2="472.49" stroke="#1a1a1a" stroke-width="1.2" />
<line x1="330.40" y1="472.49" x2="325.60" y2="472.49" stroke="#1a1a1a" stroke-width="1.2" />
<line x1="31.40" y1="446.78" x2="36.20" y2="446.78" stroke="#1a1a1a" stroke-width="1.2" />
<line x1="330.40" y1="446.78" x2="325.60" y2="446.78" stroke="#1a1a1a" stroke-width="1.2" />
<line x1="31.40" y1="421.07" x2="36.20" y2="421.07" stroke="#1a1a1a" stroke-width="1.2" />
<line x1="330.40" y1="421.07" x2="325.60" y2="421.07" stroke="#1a1a1a" stroke-width="1.2" />
<line x1="31.40" y1="395.36" x2="36.20" y2="395.36" stroke="#1a1a1a" stroke-width="1.2" />
<line x1="330.40" y1="395.36" x2="325.60" y2="395.36" stroke="#1a1a1a" stroke-width="1.2" />
<line x1="31.40" y1="369.64" x2="36.20" y2="369.64" stroke="#1a1a1a" stroke-width="1.2" />
<line x1="330.40" y1="369.64" x2="325.60" y2="369.64" stroke="#1a1a1a" stroke-width="1.2" />
<line x1="31.40" y1="343.93" x2="36.20" y2="343.93" stroke="#1a1a1a" stroke-width="1.2" />
<line x1="330.40" y1="343.93" x2="325.60" y2="343.93" stroke="#1a1a1a" stroke-width="1.2" />
<line x1="31.40" y1="318.22" x2="36.20" y2="318.22" stroke="#1a1a1a" stroke-width="1.2" />
<line x1="330.40" y1="318.22" x2="325.60" y2="318.22" stroke="#1a1a1a" stroke-width="1.2" />
<line x1="31.40" y1="292.51" x2="36.20" y2="292.51" stroke="#1a1a1a" stroke-width="1.2" />
<line x1="330.40" y1="292.51" x2="325.60" y2="292.51" stroke="#1a1a1a" stroke-width="1.2" />
<line x1="31.40" y1="266.80" x2="36.20" y2="266.80" stroke="#1a1a1a" stroke-width="1.2" />
<line x1="330.40" y1="266.80" x2="325.60" y2="266.80" stroke="#1a1a1a" stroke-width="1.2" />
<text x="26.40" y="502.00" font-size="11.3" fill="#1a1a1a" stroke="#1a1a1a" stroke-width="0.15" text-anchor="end" font-weight="normal" font-style="normal" >24</text>
<text x="26.40" y="476.29" font-size="11.3" fill="#1a1a1a" stroke="#1a1a1a" stroke-width="0.15" text-anchor="end" font-weight="normal" font-style="normal" >30</text>
<text x="26.40" y="450.58" font-size="11.3" fill="#1a1a1a" stroke="#1a1a1a" stroke-width="0.15" text-anchor="end" font-weight="normal" font-style="normal" >36</text>
<text x="26.40" y="424.87" font-size="11.3" fill="#1a1a1a" stroke="#1a1a1a" stroke-width="0.15" text-anchor="end" font-weight="normal" font-style="normal" >42</text>
<text x="26.40" y="399.16" font-size="11.3" fill="#1a1a1a" stroke="#1a1a1a" stroke-width="0.15" text-anchor="end" font-weight="normal" font-style="normal" >48</text>
<text x="26.40" y="373.44" font-size="11.3" fill="#1a1a1a" stroke="#1a1a1a" stroke-width="0.15" text-anchor="end" font-weight="normal" font-style="normal" >54</text>
<text x="26.40" y="347.73" font-size="11.3" fill="#1a1a1a" stroke="#1a1a1a" stroke-width="0.15" text-anchor="end" font-weight="normal" font-style="normal" >60</text>
<text x="26.40" y="322.02" font-size="11.3" fill="#1a1a1a" stroke="#1a1a1a" stroke-width="0.15" text-anchor="end" font-weight="normal" font-style="normal" >66</text>
<text x="26.40" y="296.31" font-size="11.3" fill="#1a1a1a" stroke="#1a1a1a" stroke-width="0.15" text-anchor="end" font-weight="normal" font-style="normal" >72</text>
<text x="26.40" y="270.60" font-size="11.3" fill="#1a1a1a" stroke="#1a1a1a" stroke-width="0.15" text-anchor="end" font-weight="normal" font-style="normal" >78</text>
<text transform="translate(9.7,382) rotate(-90)" font-size="11.9" fill="#222" stroke="#222" stroke-width="0.15" text-anchor="middle">Temperature(°C)</text>
<text x="181.50" y="531.20" font-size="12.2" fill="#222" stroke="#222" stroke-width="0.15" text-anchor="middle" font-weight="normal" font-style="normal" >Time(s)</text>
<text x="123.40" y="264.30" font-size="12" fill="#f0141e" stroke="#f0141e" stroke-width="0.15" text-anchor="middle" font-weight="normal" font-style="normal" >501s</text>
<text x="54.00" y="287.00" font-size="12.6" fill="#222" stroke="#222" stroke-width="0.15" text-anchor="middle" font-weight="normal" font-style="normal" >6C</text>
<rect x="263.2" y="273.4" width="61.19999999999999" height="110.10000000000002" fill="#fff" stroke="#c8c8c8" stroke-width="1"/>
<line x1="265.10" y1="281.40" x2="292.60" y2="281.40" stroke="#d8d8d8" stroke-width="1" />
<rect x="277.30" y="279.70" width="3.40" height="3.40" fill="#3c3c3c"/>
<text x="295.6" y="285.90" font-size="12.2" fill="#1a1a1a" stroke="#1a1a1a" stroke-width="0.15" textLength="12.4" lengthAdjust="spacingAndGlyphs">T1</text>
<text x="308.60" y="289.30" font-size="11.2" fill="#1a1a1a" stroke="#1a1a1a" stroke-width="0.15" textLength="8.4" lengthAdjust="spacingAndGlyphs">in</text>
<line x1="265.10" y1="299.60" x2="292.60" y2="299.60" stroke="#f6b4b6" stroke-width="1" />
<circle cx="279.00" cy="299.60" r="1.70" fill="#e8333b"/>
<text x="295.6" y="304.10" font-size="12.2" fill="#1a1a1a" stroke="#1a1a1a" stroke-width="0.15" textLength="12.4" lengthAdjust="spacingAndGlyphs">T2</text>
<text x="308.60" y="307.50" font-size="11.2" fill="#1a1a1a" stroke="#1a1a1a" stroke-width="0.15" textLength="8.4" lengthAdjust="spacingAndGlyphs">in</text>
<line x1="265.10" y1="317.90" x2="292.60" y2="317.90" stroke="#c2d6f6" stroke-width="1" />
<path d="M279.00,316.03 L280.87,319.26 L277.13,319.26 Z" fill="#2b6fe6"/>
<text x="295.6" y="322.40" font-size="12.2" fill="#1a1a1a" stroke="#1a1a1a" stroke-width="0.15" textLength="12.4" lengthAdjust="spacingAndGlyphs">T3</text>
<text x="308.60" y="325.80" font-size="11.2" fill="#1a1a1a" stroke="#1a1a1a" stroke-width="0.15" textLength="8.4" lengthAdjust="spacingAndGlyphs">in</text>
<line x1="265.10" y1="336.10" x2="292.60" y2="336.10" stroke="#b8e4c8" stroke-width="1" />
<path d="M279.00,337.97 L280.87,334.74 L277.13,334.74 Z" fill="#2ea868"/>
<text x="295.6" y="340.60" font-size="12.2" fill="#1a1a1a" stroke="#1a1a1a" stroke-width="0.15" textLength="12.4" lengthAdjust="spacingAndGlyphs">T1</text>
<text x="308.60" y="344.00" font-size="11.2" fill="#1a1a1a" stroke="#1a1a1a" stroke-width="0.15" textLength="14.2" lengthAdjust="spacingAndGlyphs">out</text>
<line x1="265.10" y1="354.30" x2="292.60" y2="354.30" stroke="#e0ccf6" stroke-width="1" />
<path d="M279.00,352.26 L280.70,354.30 L279.00,356.34 L277.30,354.30 Z" fill="#a767e2"/>
<text x="295.6" y="358.80" font-size="12.2" fill="#1a1a1a" stroke="#1a1a1a" stroke-width="0.15" textLength="12.4" lengthAdjust="spacingAndGlyphs">T2</text>
<text x="308.60" y="362.20" font-size="11.2" fill="#1a1a1a" stroke="#1a1a1a" stroke-width="0.15" textLength="14.2" lengthAdjust="spacingAndGlyphs">out</text>
<line x1="265.10" y1="372.30" x2="292.60" y2="372.30" stroke="#ecd29a" stroke-width="1" />
<path d="M277.13,372.30 L280.36,370.43 L280.36,374.17 Z" fill="#cf9a20"/>
<text x="295.6" y="376.80" font-size="12.2" fill="#1a1a1a" stroke="#1a1a1a" stroke-width="0.15" textLength="12.4" lengthAdjust="spacingAndGlyphs">T3</text>
<text x="308.60" y="380.20" font-size="11.2" fill="#1a1a1a" stroke="#1a1a1a" stroke-width="0.15" textLength="14.2" lengthAdjust="spacingAndGlyphs">out</text>
<text x="244.10" y="289.20" font-size="17.5" fill="#111" stroke="#111" stroke-width="0.15" text-anchor="middle" font-weight="bold" font-style="normal" >(c)</text>
<text x="380.00" y="445.30" font-size="10" fill="#222" stroke="#222" stroke-width="0.15" text-anchor="start" font-weight="normal" font-style="normal" >Constant current charge</text>
<text x="486.40" y="445.30" font-size="10" fill="#222" stroke="#222" stroke-width="0.15" text-anchor="start" font-weight="normal" font-style="normal" >Constant voltage charge</text>
<text x="447.5" y="298.6" font-size="8.8" fill="#222" stroke="#222" stroke-width="0.15">ΔT<tspan font-size="6.1" dy="2">in</tspan><tspan dy="-2">(max)=1.01°C</tspan></text>
<text x="449.6" y="374.0" font-size="8.6" fill="#222" stroke="#222" stroke-width="0.15">ΔT<tspan font-size="6" dy="2">out</tspan><tspan dy="-2">(max)=1.59°C</tspan></text>
<path d="M375.20,493.97 C376.41,492.32 380.04,489.31 382.46,484.08 C384.89,478.85 387.31,469.06 389.73,462.57 C392.15,456.07 394.57,451.90 397.00,445.12 C399.42,438.34 401.84,428.64 404.26,421.86 C406.68,415.08 409.10,409.84 411.52,404.42 C413.95,398.99 416.37,394.05 418.79,389.30 C421.21,384.55 423.63,380.28 426.05,375.92 C428.48,371.56 430.90,367.49 433.32,363.13 C435.74,358.77 438.16,354.12 440.58,349.75 C443.01,345.39 445.43,340.84 447.85,336.96 C450.27,333.08 452.69,329.84 455.12,326.49 C457.54,323.15 459.96,320.00 462.38,316.90 C464.80,313.80 467.22,310.12 469.64,307.89 C472.07,305.66 474.49,304.01 476.91,303.53 C479.33,303.04 481.75,303.86 484.17,304.98 C486.60,306.09 489.02,307.89 491.44,310.21 C493.86,312.54 496.28,316.03 498.70,318.94 C501.13,321.84 503.55,324.75 505.97,327.66 C508.39,330.56 510.81,333.57 513.23,336.38 C515.66,339.19 518.08,341.71 520.50,344.52 C522.92,347.33 525.34,350.43 527.76,353.24 C530.19,356.05 532.61,358.57 535.03,361.38 C537.45,364.20 539.87,367.30 542.29,370.11 C544.72,372.92 547.14,375.63 549.56,378.25 C551.98,380.86 554.40,383.38 556.82,385.81 C559.25,388.23 561.67,390.46 564.09,392.79 C566.51,395.11 568.93,397.53 571.36,399.76 C573.78,401.99 576.20,404.12 578.62,406.16 C581.04,408.20 583.46,409.94 585.88,411.98 C588.31,414.01 590.73,416.53 593.15,418.37 C595.57,420.21 597.99,421.38 600.41,423.02 C602.84,424.67 605.26,426.61 607.68,428.26 C610.10,429.90 612.52,431.36 614.94,432.91 C617.37,434.46 619.79,436.30 622.21,437.56 C624.63,438.82 627.05,439.40 629.47,440.47 C631.90,441.53 635.04,443.38 636.74,443.96 C638.44,444.54 639.16,443.96 639.65,443.96" fill="none" stroke="#9a9a9a" stroke-width="0.8"/>
<path d="M375.20,494.49 C376.41,492.84 380.04,489.84 382.46,484.60 C384.89,479.37 387.31,469.58 389.73,463.09 C392.15,456.60 394.57,452.43 397.00,445.64 C399.42,438.86 401.84,428.96 404.26,422.38 C406.68,415.80 409.10,411.38 411.52,406.16 C413.95,400.94 416.37,395.79 418.79,391.04 C421.21,386.29 423.63,382.03 426.05,377.67 C428.48,373.31 430.90,369.23 433.32,364.87 C435.74,360.51 438.16,355.71 440.58,351.50 C443.01,347.28 445.43,343.31 447.85,339.58 C450.27,335.85 452.69,332.45 455.12,329.11 C457.54,325.77 459.96,322.62 462.38,319.52 C464.80,316.42 467.22,312.73 469.64,310.50 C472.07,308.27 474.49,306.63 476.91,306.14 C479.33,305.66 481.75,306.48 484.17,307.60 C486.60,308.71 489.02,310.50 491.44,312.83 C493.86,315.16 496.28,318.64 498.70,321.55 C501.13,324.46 503.55,327.37 505.97,330.27 C508.39,333.18 510.81,336.19 513.23,339.00 C515.66,341.81 518.08,344.47 520.50,347.14 C522.92,349.80 525.34,352.32 527.76,354.99 C530.19,357.65 532.61,360.32 535.03,363.13 C537.45,365.94 539.87,369.04 542.29,371.85 C544.72,374.66 547.14,377.38 549.56,379.99 C551.98,382.61 554.40,385.13 556.82,387.55 C559.25,389.97 561.67,392.20 564.09,394.53 C566.51,396.86 568.93,399.28 571.36,401.51 C573.78,403.74 576.20,405.87 578.62,407.90 C581.04,409.94 583.46,411.68 585.88,413.72 C588.31,415.75 590.73,418.27 593.15,420.12 C595.57,421.96 597.99,423.12 600.41,424.77 C602.84,426.42 605.26,428.35 607.68,430.00 C610.10,431.65 612.52,433.10 614.94,434.65 C617.37,436.20 619.79,438.05 622.21,439.31 C624.63,440.57 627.05,441.15 629.47,442.21 C631.90,443.28 635.04,445.12 636.74,445.70 C638.44,446.28 639.16,445.70 639.65,445.70" fill="none" stroke="#f29a9c" stroke-width="0.8"/>
<path d="M375.20,494.84 C376.41,493.19 380.04,490.19 382.46,484.95 C384.89,479.72 387.31,469.93 389.73,463.44 C392.15,456.94 394.57,452.78 397.00,445.99 C399.42,439.21 401.84,429.18 404.26,422.73 C406.68,416.29 409.10,412.41 411.52,407.32 C413.95,402.23 416.37,396.95 418.79,392.20 C421.21,387.46 423.63,383.19 426.05,378.83 C428.48,374.47 430.90,370.40 433.32,366.04 C435.74,361.68 438.16,356.73 440.58,352.66 C443.01,348.59 445.43,345.20 447.85,341.61 C450.27,338.03 452.69,334.49 455.12,331.15 C457.54,327.80 459.96,324.65 462.38,321.55 C464.80,318.45 467.22,314.77 469.64,312.54 C472.07,310.31 474.49,308.66 476.91,308.18 C479.33,307.69 481.75,308.52 484.17,309.63 C486.60,310.75 489.02,312.54 491.44,314.86 C493.86,317.19 496.28,320.68 498.70,323.59 C501.13,326.49 503.55,329.40 505.97,332.31 C508.39,335.22 510.81,338.22 513.23,341.03 C515.66,343.84 518.08,346.65 520.50,349.17 C522.92,351.69 525.34,353.63 527.76,356.15 C530.19,358.67 532.61,361.48 535.03,364.29 C537.45,367.10 539.87,370.20 542.29,373.01 C544.72,375.83 547.14,378.54 549.56,381.16 C551.98,383.77 554.40,386.29 556.82,388.72 C559.25,391.14 561.67,393.37 564.09,395.69 C566.51,398.02 568.93,400.44 571.36,402.67 C573.78,404.90 576.20,407.03 578.62,409.07 C581.04,411.10 583.46,412.85 585.88,414.88 C588.31,416.92 590.73,419.44 593.15,421.28 C595.57,423.12 597.99,424.28 600.41,425.93 C602.84,427.58 605.26,429.52 607.68,431.16 C610.10,432.81 612.52,434.27 614.94,435.82 C617.37,437.37 619.79,439.21 622.21,440.47 C624.63,441.73 627.05,442.31 629.47,443.38 C631.90,444.44 635.04,446.28 636.74,446.87 C638.44,447.45 639.16,446.87 639.65,446.87" fill="none" stroke="#98b8ee" stroke-width="0.8"/>
<path d="M375.20,496.87 C376.41,496.10 380.04,495.71 382.46,492.22 C384.89,488.73 387.31,481.85 389.73,475.94 C392.15,470.03 394.57,462.86 397.00,456.75 C399.42,450.64 401.84,444.73 404.26,439.31 C406.68,433.88 409.10,428.74 411.52,424.19 C413.95,419.63 416.37,416.05 418.79,411.98 C421.21,407.90 423.63,403.64 426.05,399.76 C428.48,395.89 430.90,392.30 433.32,388.72 C435.74,385.13 438.16,381.45 440.58,378.25 C443.01,375.05 445.43,372.53 447.85,369.53 C450.27,366.52 452.69,363.13 455.12,360.22 C457.54,357.31 459.96,354.70 462.38,352.08 C464.80,349.46 467.22,346.65 469.64,344.52 C472.07,342.39 474.49,340.16 476.91,339.29 C479.33,338.42 481.75,338.42 484.17,339.29 C486.60,340.16 489.02,342.39 491.44,344.52 C493.86,346.65 496.28,349.56 498.70,352.08 C501.13,354.60 503.55,357.31 505.97,359.64 C508.39,361.97 510.81,364.00 513.23,366.04 C515.66,368.07 518.08,369.82 520.50,371.85 C522.92,373.89 525.34,375.83 527.76,378.25 C530.19,380.67 532.61,383.97 535.03,386.39 C537.45,388.81 539.87,390.75 542.29,392.79 C544.72,394.82 547.14,396.47 549.56,398.60 C551.98,400.73 554.40,403.54 556.82,405.58 C559.25,407.61 561.67,408.97 564.09,410.81 C566.51,412.65 568.93,414.88 571.36,416.63 C573.78,418.37 576.20,419.63 578.62,421.28 C581.04,422.93 583.46,424.77 585.88,426.51 C588.31,428.26 590.73,430.20 593.15,431.75 C595.57,433.30 597.99,434.56 600.41,435.82 C602.84,437.08 605.26,438.05 607.68,439.31 C610.10,440.57 612.52,442.31 614.94,443.38 C617.37,444.44 619.79,444.73 622.21,445.70 C624.63,446.67 627.05,448.12 629.47,449.19 C631.90,450.26 635.04,451.61 636.74,452.10 C638.44,452.58 639.16,452.10 639.65,452.10" fill="none" stroke="#92d4ad" stroke-width="0.8"/>
<path d="M375.20,497.46 C376.41,496.58 380.04,495.90 382.46,492.22 C384.89,488.54 387.31,481.27 389.73,475.36 C392.15,469.45 394.57,463.05 397.00,456.75 C399.42,450.45 401.84,443.38 404.26,437.56 C406.68,431.75 409.10,426.71 411.52,421.86 C413.95,417.01 416.37,412.75 418.79,408.49 C421.21,404.22 423.63,400.35 426.05,396.27 C428.48,392.20 430.90,387.94 433.32,384.06 C435.74,380.19 438.16,376.60 440.58,373.01 C443.01,369.43 445.43,365.84 447.85,362.55 C450.27,359.25 452.69,356.25 455.12,353.24 C457.54,350.24 459.96,347.33 462.38,344.52 C464.80,341.71 467.22,338.71 469.64,336.38 C472.07,334.05 474.49,331.44 476.91,330.57 C479.33,329.69 481.75,330.18 484.17,331.15 C486.60,332.12 489.02,334.44 491.44,336.38 C493.86,338.32 496.28,340.55 498.70,342.78 C501.13,345.01 503.55,347.43 505.97,349.75 C508.39,352.08 510.81,354.41 513.23,356.73 C515.66,359.06 518.08,361.48 520.50,363.71 C522.92,365.94 525.34,367.78 527.76,370.11 C530.19,372.43 532.61,374.95 535.03,377.67 C537.45,380.38 539.87,383.87 542.29,386.39 C544.72,388.91 547.14,390.56 549.56,392.79 C551.98,395.01 554.40,397.63 556.82,399.76 C559.25,401.90 561.67,403.54 564.09,405.58 C566.51,407.61 568.93,409.94 571.36,411.98 C573.78,414.01 576.20,416.05 578.62,417.79 C581.04,419.53 583.46,420.79 585.88,422.44 C588.31,424.09 590.73,425.93 593.15,427.68 C595.57,429.42 597.99,431.36 600.41,432.91 C602.84,434.46 605.26,435.72 607.68,436.98 C610.10,438.24 612.52,439.21 614.94,440.47 C617.37,441.73 619.79,443.28 622.21,444.54 C624.63,445.80 627.05,446.77 629.47,448.03 C631.90,449.29 635.04,451.42 636.74,452.10 C638.44,452.78 639.16,452.10 639.65,452.10" fill="none" stroke="#cfb2f0" stroke-width="0.8"/>
<path d="M375.20,496.29 C376.41,495.42 380.04,494.74 382.46,491.06 C384.89,487.38 387.31,480.11 389.73,474.20 C392.15,468.28 394.57,461.89 397.00,455.59 C399.42,449.29 401.84,442.21 404.26,436.40 C406.68,430.58 409.10,425.54 411.52,420.70 C413.95,415.85 416.37,411.59 418.79,407.32 C421.21,403.06 423.63,399.18 426.05,395.11 C428.48,391.04 430.90,386.78 433.32,382.90 C435.74,379.02 438.16,375.44 440.58,371.85 C443.01,368.27 445.43,364.68 447.85,361.38 C450.27,358.09 452.69,355.08 455.12,352.08 C457.54,349.08 459.96,346.17 462.38,343.36 C464.80,340.55 467.22,337.54 469.64,335.22 C472.07,332.89 474.49,330.27 476.91,329.40 C479.33,328.53 481.75,329.01 484.17,329.98 C486.60,330.95 489.02,333.28 491.44,335.22 C493.86,337.16 496.28,339.38 498.70,341.61 C501.13,343.84 503.55,346.27 505.97,348.59 C508.39,350.92 510.81,353.24 513.23,355.57 C515.66,357.90 518.08,360.32 520.50,362.55 C522.92,364.78 525.34,366.62 527.76,368.94 C530.19,371.27 532.61,373.79 535.03,376.50 C537.45,379.22 539.87,382.71 542.29,385.23 C544.72,387.75 547.14,389.39 549.56,391.62 C551.98,393.85 554.40,396.47 556.82,398.60 C559.25,400.73 561.67,402.38 564.09,404.42 C566.51,406.45 568.93,408.78 571.36,410.81 C573.78,412.85 576.20,414.88 578.62,416.63 C581.04,418.37 583.46,419.63 585.88,421.28 C588.31,422.93 590.73,424.77 593.15,426.51 C595.57,428.26 597.99,430.20 600.41,431.75 C602.84,433.30 605.26,434.56 607.68,435.82 C610.10,437.08 612.52,438.05 614.94,439.31 C617.37,440.57 619.79,442.12 622.21,443.38 C624.63,444.64 627.05,445.61 629.47,446.87 C631.90,448.12 635.04,450.26 636.74,450.94 C638.44,451.61 639.16,450.94 639.65,450.94" fill="none" stroke="#e2be6c" stroke-width="0.8"/>
<rect x="373.55" y="492.32" width="3.30" height="3.30" fill="#3c3c3c"/>
<rect x="380.81" y="482.43" width="3.30" height="3.30" fill="#3c3c3c"/>
<rect x="388.08" y="460.92" width="3.30" height="3.30" fill="#3c3c3c"/>
<rect x="395.35" y="443.47" width="3.30" height="3.30" fill="#3c3c3c"/>
<rect x="402.61" y="420.21" width="3.30" height="3.30" fill="#3c3c3c"/>
<rect x="409.88" y="402.77" width="3.30" height="3.30" fill="#3c3c3c"/>
<rect x="417.14" y="387.65" width="3.30" height="3.30" fill="#3c3c3c"/>
<rect x="424.40" y="374.27" width="3.30" height="3.30" fill="#3c3c3c"/>
<rect x="431.67" y="361.48" width="3.30" height="3.30" fill="#3c3c3c"/>
<rect x="438.94" y="348.10" width="3.30" height="3.30" fill="#3c3c3c"/>
<rect x="446.20" y="335.31" width="3.30" height="3.30" fill="#3c3c3c"/>
<rect x="453.47" y="324.84" width="3.30" height="3.30" fill="#3c3c3c"/>
<rect x="460.73" y="315.25" width="3.30" height="3.30" fill="#3c3c3c"/>
<rect x="468.00" y="306.24" width="3.30" height="3.30" fill="#3c3c3c"/>
<rect x="475.26" y="301.88" width="3.30" height="3.30" fill="#3c3c3c"/>
<rect x="482.52" y="303.33" width="3.30" height="3.30" fill="#3c3c3c"/>
<rect x="489.79" y="308.56" width="3.30" height="3.30" fill="#3c3c3c"/>
<rect x="497.06" y="317.29" width="3.30" height="3.30" fill="#3c3c3c"/>
<rect x="504.32" y="326.01" width="3.30" height="3.30" fill="#3c3c3c"/>
<rect x="511.58" y="334.73" width="3.30" height="3.30" fill="#3c3c3c"/>
<rect x="518.85" y="342.87" width="3.30" height="3.30" fill="#3c3c3c"/>
<rect x="526.12" y="351.59" width="3.30" height="3.30" fill="#3c3c3c"/>
<rect x="533.38" y="359.73" width="3.30" height="3.30" fill="#3c3c3c"/>
<rect x="540.64" y="368.46" width="3.30" height="3.30" fill="#3c3c3c"/>
<rect x="547.91" y="376.60" width="3.30" height="3.30" fill="#3c3c3c"/>
<rect x="555.17" y="384.16" width="3.30" height="3.30" fill="#3c3c3c"/>
<rect x="562.44" y="391.14" width="3.30" height="3.30" fill="#3c3c3c"/>
<rect x="569.71" y="398.11" width="3.30" height="3.30" fill="#3c3c3c"/>
<rect x="576.97" y="404.51" width="3.30" height="3.30" fill="#3c3c3c"/>
<rect x="584.24" y="410.33" width="3.30" height="3.30" fill="#3c3c3c"/>
<rect x="591.50" y="416.72" width="3.30" height="3.30" fill="#3c3c3c"/>
<rect x="598.76" y="421.37" width="3.30" height="3.30" fill="#3c3c3c"/>
<rect x="606.03" y="426.61" width="3.30" height="3.30" fill="#3c3c3c"/>
<rect x="613.29" y="431.26" width="3.30" height="3.30" fill="#3c3c3c"/>
<rect x="620.56" y="435.91" width="3.30" height="3.30" fill="#3c3c3c"/>
<rect x="627.82" y="438.82" width="3.30" height="3.30" fill="#3c3c3c"/>
<rect x="635.09" y="442.31" width="3.30" height="3.30" fill="#3c3c3c"/>
<rect x="638.00" y="442.31" width="3.30" height="3.30" fill="#3c3c3c"/>
<circle cx="375.20" cy="494.49" r="1.65" fill="#e8333b"/>
<circle cx="382.46" cy="484.60" r="1.65" fill="#e8333b"/>
<circle cx="389.73" cy="463.09" r="1.65" fill="#e8333b"/>
<circle cx="397.00" cy="445.64" r="1.65" fill="#e8333b"/>
<circle cx="404.26" cy="422.38" r="1.65" fill="#e8333b"/>
<circle cx="411.52" cy="406.16" r="1.65" fill="#e8333b"/>
<circle cx="418.79" cy="391.04" r="1.65" fill="#e8333b"/>
<circle cx="426.05" cy="377.67" r="1.65" fill="#e8333b"/>
<circle cx="433.32" cy="364.87" r="1.65" fill="#e8333b"/>
<circle cx="440.58" cy="351.50" r="1.65" fill="#e8333b"/>
<circle cx="447.85" cy="339.58" r="1.65" fill="#e8333b"/>
<circle cx="455.12" cy="329.11" r="1.65" fill="#e8333b"/>
<circle cx="462.38" cy="319.52" r="1.65" fill="#e8333b"/>
<circle cx="469.64" cy="310.50" r="1.65" fill="#e8333b"/>
<circle cx="476.91" cy="306.14" r="1.65" fill="#e8333b"/>
<circle cx="484.17" cy="307.60" r="1.65" fill="#e8333b"/>
<circle cx="491.44" cy="312.83" r="1.65" fill="#e8333b"/>
<circle cx="498.70" cy="321.55" r="1.65" fill="#e8333b"/>
<circle cx="505.97" cy="330.27" r="1.65" fill="#e8333b"/>
<circle cx="513.23" cy="339.00" r="1.65" fill="#e8333b"/>
<circle cx="520.50" cy="347.14" r="1.65" fill="#e8333b"/>
<circle cx="527.76" cy="354.99" r="1.65" fill="#e8333b"/>
<circle cx="535.03" cy="363.13" r="1.65" fill="#e8333b"/>
<circle cx="542.29" cy="371.85" r="1.65" fill="#e8333b"/>
<circle cx="549.56" cy="379.99" r="1.65" fill="#e8333b"/>
<circle cx="556.82" cy="387.55" r="1.65" fill="#e8333b"/>
<circle cx="564.09" cy="394.53" r="1.65" fill="#e8333b"/>
<circle cx="571.36" cy="401.51" r="1.65" fill="#e8333b"/>
<circle cx="578.62" cy="407.90" r="1.65" fill="#e8333b"/>
<circle cx="585.88" cy="413.72" r="1.65" fill="#e8333b"/>
<circle cx="593.15" cy="420.12" r="1.65" fill="#e8333b"/>
<circle cx="600.41" cy="424.77" r="1.65" fill="#e8333b"/>
<circle cx="607.68" cy="430.00" r="1.65" fill="#e8333b"/>
<circle cx="614.94" cy="434.65" r="1.65" fill="#e8333b"/>
<circle cx="622.21" cy="439.31" r="1.65" fill="#e8333b"/>
<circle cx="629.47" cy="442.21" r="1.65" fill="#e8333b"/>
<circle cx="636.74" cy="445.70" r="1.65" fill="#e8333b"/>
<circle cx="639.65" cy="445.70" r="1.65" fill="#e8333b"/>
<path d="M375.20,493.02 L377.01,496.16 L373.38,496.16 Z" fill="#2b6fe6"/>
<path d="M382.46,483.14 L384.28,486.27 L380.65,486.27 Z" fill="#2b6fe6"/>
<path d="M389.73,461.62 L391.54,464.76 L387.91,464.76 Z" fill="#2b6fe6"/>
<path d="M397.00,444.18 L398.81,447.31 L395.18,447.31 Z" fill="#2b6fe6"/>
<path d="M404.26,420.92 L406.07,424.05 L402.44,424.05 Z" fill="#2b6fe6"/>
<path d="M411.52,405.51 L413.34,408.64 L409.71,408.64 Z" fill="#2b6fe6"/>
<path d="M418.79,390.39 L420.60,393.52 L416.97,393.52 Z" fill="#2b6fe6"/>
<path d="M426.05,377.01 L427.87,380.15 L424.24,380.15 Z" fill="#2b6fe6"/>
<path d="M433.32,364.22 L435.13,367.36 L431.50,367.36 Z" fill="#2b6fe6"/>
<path d="M440.58,350.85 L442.40,353.98 L438.77,353.98 Z" fill="#2b6fe6"/>
<path d="M447.85,339.80 L449.66,342.93 L446.03,342.93 Z" fill="#2b6fe6"/>
<path d="M455.12,329.33 L456.93,332.47 L453.30,332.47 Z" fill="#2b6fe6"/>
<path d="M462.38,319.74 L464.19,322.87 L460.56,322.87 Z" fill="#2b6fe6"/>
<path d="M469.64,310.72 L471.46,313.86 L467.83,313.86 Z" fill="#2b6fe6"/>
<path d="M476.91,306.36 L478.72,309.50 L475.09,309.50 Z" fill="#2b6fe6"/>
<path d="M484.17,307.82 L485.99,310.95 L482.36,310.95 Z" fill="#2b6fe6"/>
<path d="M491.44,313.05 L493.25,316.18 L489.62,316.18 Z" fill="#2b6fe6"/>
<path d="M498.70,321.77 L500.52,324.91 L496.89,324.91 Z" fill="#2b6fe6"/>
<path d="M505.97,330.49 L507.78,333.63 L504.15,333.63 Z" fill="#2b6fe6"/>
<path d="M513.23,339.22 L515.05,342.35 L511.42,342.35 Z" fill="#2b6fe6"/>
<path d="M520.50,347.36 L522.32,350.49 L518.68,350.49 Z" fill="#2b6fe6"/>
<path d="M527.76,354.34 L529.58,357.47 L525.95,357.47 Z" fill="#2b6fe6"/>
<path d="M535.03,362.48 L536.85,365.61 L533.21,365.61 Z" fill="#2b6fe6"/>
<path d="M542.29,371.20 L544.11,374.33 L540.48,374.33 Z" fill="#2b6fe6"/>
<path d="M549.56,379.34 L551.38,382.48 L547.74,382.48 Z" fill="#2b6fe6"/>
<path d="M556.82,386.90 L558.64,390.04 L555.01,390.04 Z" fill="#2b6fe6"/>
<path d="M564.09,393.88 L565.90,397.01 L562.27,397.01 Z" fill="#2b6fe6"/>
<path d="M571.36,400.86 L573.17,403.99 L569.54,403.99 Z" fill="#2b6fe6"/>
<path d="M578.62,407.25 L580.43,410.39 L576.80,410.39 Z" fill="#2b6fe6"/>
<path d="M585.88,413.07 L587.70,416.20 L584.07,416.20 Z" fill="#2b6fe6"/>
<path d="M593.15,419.46 L594.97,422.60 L591.33,422.60 Z" fill="#2b6fe6"/>
<path d="M600.41,424.12 L602.23,427.25 L598.60,427.25 Z" fill="#2b6fe6"/>
<path d="M607.68,429.35 L609.50,432.48 L605.86,432.48 Z" fill="#2b6fe6"/>
<path d="M614.94,434.00 L616.76,437.14 L613.13,437.14 Z" fill="#2b6fe6"/>
<path d="M622.21,438.65 L624.02,441.79 L620.39,441.79 Z" fill="#2b6fe6"/>
<path d="M629.47,441.56 L631.29,444.70 L627.66,444.70 Z" fill="#2b6fe6"/>
<path d="M636.74,445.05 L638.56,448.19 L634.92,448.19 Z" fill="#2b6fe6"/>
<path d="M639.65,445.05 L641.46,448.19 L637.83,448.19 Z" fill="#2b6fe6"/>
<path d="M375.20,498.69 L377.01,495.55 L373.38,495.55 Z" fill="#2ea868"/>
<path d="M382.46,494.04 L384.28,490.90 L380.65,490.90 Z" fill="#2ea868"/>
<path d="M389.73,477.75 L391.54,474.62 L387.91,474.62 Z" fill="#2ea868"/>
<path d="M397.00,458.57 L398.81,455.43 L395.18,455.43 Z" fill="#2ea868"/>
<path d="M404.26,441.12 L406.07,437.99 L402.44,437.99 Z" fill="#2ea868"/>
<path d="M411.52,426.00 L413.34,422.87 L409.71,422.87 Z" fill="#2ea868"/>
<path d="M418.79,413.79 L420.60,410.66 L416.97,410.66 Z" fill="#2ea868"/>
<path d="M426.05,401.58 L427.87,398.44 L424.24,398.44 Z" fill="#2ea868"/>
<path d="M433.32,390.53 L435.13,387.40 L431.50,387.40 Z" fill="#2ea868"/>
<path d="M440.58,380.06 L442.40,376.93 L438.77,376.93 Z" fill="#2ea868"/>
<path d="M447.85,371.34 L449.66,368.21 L446.03,368.21 Z" fill="#2ea868"/>
<path d="M455.12,362.04 L456.93,358.90 L453.30,358.90 Z" fill="#2ea868"/>
<path d="M462.38,353.90 L464.19,350.76 L460.56,350.76 Z" fill="#2ea868"/>
<path d="M469.64,346.34 L471.46,343.20 L467.83,343.20 Z" fill="#2ea868"/>
<path d="M476.91,341.10 L478.72,337.97 L475.09,337.97 Z" fill="#2ea868"/>
<path d="M484.17,341.10 L485.99,337.97 L482.36,337.97 Z" fill="#2ea868"/>
<path d="M491.44,346.34 L493.25,343.20 L489.62,343.20 Z" fill="#2ea868"/>
<path d="M498.70,353.90 L500.52,350.76 L496.89,350.76 Z" fill="#2ea868"/>
<path d="M505.97,361.45 L507.78,358.32 L504.15,358.32 Z" fill="#2ea868"/>
<path d="M513.23,367.85 L515.05,364.72 L511.42,364.72 Z" fill="#2ea868"/>
<path d="M520.50,373.67 L522.32,370.53 L518.68,370.53 Z" fill="#2ea868"/>
<path d="M527.76,380.06 L529.58,376.93 L525.95,376.93 Z" fill="#2ea868"/>
<path d="M535.03,388.20 L536.85,385.07 L533.21,385.07 Z" fill="#2ea868"/>
<path d="M542.29,394.60 L544.11,391.47 L540.48,391.47 Z" fill="#2ea868"/>
<path d="M549.56,400.42 L551.38,397.28 L547.74,397.28 Z" fill="#2ea868"/>
<path d="M556.82,407.39 L558.64,404.26 L555.01,404.26 Z" fill="#2ea868"/>
<path d="M564.09,412.63 L565.90,409.49 L562.27,409.49 Z" fill="#2ea868"/>
<path d="M571.36,418.44 L573.17,415.31 L569.54,415.31 Z" fill="#2ea868"/>
<path d="M578.62,423.09 L580.43,419.96 L576.80,419.96 Z" fill="#2ea868"/>
<path d="M585.88,428.33 L587.70,425.19 L584.07,425.19 Z" fill="#2ea868"/>
<path d="M593.15,433.56 L594.97,430.43 L591.33,430.43 Z" fill="#2ea868"/>
<path d="M600.41,437.63 L602.23,434.50 L598.60,434.50 Z" fill="#2ea868"/>
<path d="M607.68,441.12 L609.50,437.99 L605.86,437.99 Z" fill="#2ea868"/>
<path d="M614.94,445.19 L616.76,442.06 L613.13,442.06 Z" fill="#2ea868"/>
<path d="M622.21,447.52 L624.02,444.38 L620.39,444.38 Z" fill="#2ea868"/>
<path d="M629.47,451.01 L631.29,447.87 L627.66,447.87 Z" fill="#2ea868"/>
<path d="M636.74,453.91 L638.56,450.78 L634.92,450.78 Z" fill="#2ea868"/>
<path d="M639.65,453.91 L641.46,450.78 L637.83,450.78 Z" fill="#2ea868"/>
<path d="M375.20,495.48 L376.85,497.46 L375.20,499.44 L373.55,497.46 Z" fill="#a767e2"/>
<path d="M382.46,490.24 L384.11,492.22 L382.46,494.20 L380.81,492.22 Z" fill="#a767e2"/>
<path d="M389.73,473.38 L391.38,475.36 L389.73,477.34 L388.08,475.36 Z" fill="#a767e2"/>
<path d="M397.00,454.77 L398.64,456.75 L397.00,458.73 L395.35,456.75 Z" fill="#a767e2"/>
<path d="M404.26,435.58 L405.91,437.56 L404.26,439.54 L402.61,437.56 Z" fill="#a767e2"/>
<path d="M411.52,419.88 L413.17,421.86 L411.52,423.84 L409.88,421.86 Z" fill="#a767e2"/>
<path d="M418.79,406.51 L420.44,408.49 L418.79,410.47 L417.14,408.49 Z" fill="#a767e2"/>
<path d="M426.05,394.29 L427.70,396.27 L426.05,398.25 L424.40,396.27 Z" fill="#a767e2"/>
<path d="M433.32,382.08 L434.97,384.06 L433.32,386.04 L431.67,384.06 Z" fill="#a767e2"/>
<path d="M440.58,371.03 L442.23,373.01 L440.58,374.99 L438.94,373.01 Z" fill="#a767e2"/>
<path d="M447.85,360.57 L449.50,362.55 L447.85,364.53 L446.20,362.55 Z" fill="#a767e2"/>
<path d="M455.12,351.26 L456.76,353.24 L455.12,355.22 L453.47,353.24 Z" fill="#a767e2"/>
<path d="M462.38,342.54 L464.03,344.52 L462.38,346.50 L460.73,344.52 Z" fill="#a767e2"/>
<path d="M469.64,334.40 L471.29,336.38 L469.64,338.36 L468.00,336.38 Z" fill="#a767e2"/>
<path d="M476.91,328.59 L478.56,330.57 L476.91,332.55 L475.26,330.57 Z" fill="#a767e2"/>
<path d="M484.17,329.17 L485.82,331.15 L484.17,333.13 L482.52,331.15 Z" fill="#a767e2"/>
<path d="M491.44,334.40 L493.09,336.38 L491.44,338.36 L489.79,336.38 Z" fill="#a767e2"/>
<path d="M498.70,340.80 L500.35,342.78 L498.70,344.76 L497.06,342.78 Z" fill="#a767e2"/>
<path d="M505.97,347.77 L507.62,349.75 L505.97,351.73 L504.32,349.75 Z" fill="#a767e2"/>
<path d="M513.23,354.75 L514.88,356.73 L513.23,358.71 L511.58,356.73 Z" fill="#a767e2"/>
<path d="M520.50,361.73 L522.15,363.71 L520.50,365.69 L518.85,363.71 Z" fill="#a767e2"/>
<path d="M527.76,368.13 L529.41,370.11 L527.76,372.09 L526.12,370.11 Z" fill="#a767e2"/>
<path d="M535.03,375.69 L536.68,377.67 L535.03,379.65 L533.38,377.67 Z" fill="#a767e2"/>
<path d="M542.29,384.41 L543.94,386.39 L542.29,388.37 L540.64,386.39 Z" fill="#a767e2"/>
<path d="M549.56,390.81 L551.21,392.79 L549.56,394.77 L547.91,392.79 Z" fill="#a767e2"/>
<path d="M556.82,397.78 L558.47,399.76 L556.82,401.74 L555.17,399.76 Z" fill="#a767e2"/>
<path d="M564.09,403.60 L565.74,405.58 L564.09,407.56 L562.44,405.58 Z" fill="#a767e2"/>
<path d="M571.36,410.00 L573.00,411.98 L571.36,413.96 L569.71,411.98 Z" fill="#a767e2"/>
<path d="M578.62,415.81 L580.27,417.79 L578.62,419.77 L576.97,417.79 Z" fill="#a767e2"/>
<path d="M585.88,420.46 L587.53,422.44 L585.88,424.42 L584.24,422.44 Z" fill="#a767e2"/>
<path d="M593.15,425.70 L594.80,427.68 L593.15,429.66 L591.50,427.68 Z" fill="#a767e2"/>
<path d="M600.41,430.93 L602.06,432.91 L600.41,434.89 L598.76,432.91 Z" fill="#a767e2"/>
<path d="M607.68,435.00 L609.33,436.98 L607.68,438.96 L606.03,436.98 Z" fill="#a767e2"/>
<path d="M614.94,438.49 L616.59,440.47 L614.94,442.45 L613.29,440.47 Z" fill="#a767e2"/>
<path d="M622.21,442.56 L623.86,444.54 L622.21,446.52 L620.56,444.54 Z" fill="#a767e2"/>
<path d="M629.47,446.05 L631.12,448.03 L629.47,450.01 L627.82,448.03 Z" fill="#a767e2"/>
<path d="M636.74,450.12 L638.39,452.10 L636.74,454.08 L635.09,452.10 Z" fill="#a767e2"/>
<path d="M639.65,450.12 L641.30,452.10 L639.65,454.08 L638.00,452.10 Z" fill="#a767e2"/>
<path d="M373.38,496.29 L376.52,494.48 L376.52,498.11 Z" fill="#cf9a20"/>
<path d="M380.65,491.06 L383.78,489.24 L383.78,492.87 Z" fill="#cf9a20"/>
<path d="M387.91,474.20 L391.05,472.38 L391.05,476.01 Z" fill="#cf9a20"/>
<path d="M395.18,455.59 L398.31,453.77 L398.31,457.40 Z" fill="#cf9a20"/>
<path d="M402.44,436.40 L405.58,434.58 L405.58,438.21 Z" fill="#cf9a20"/>
<path d="M409.71,420.70 L412.84,418.88 L412.84,422.51 Z" fill="#cf9a20"/>
<path d="M416.97,407.32 L420.11,405.51 L420.11,409.14 Z" fill="#cf9a20"/>
<path d="M424.24,395.11 L427.37,393.30 L427.37,396.93 Z" fill="#cf9a20"/>
<path d="M431.50,382.90 L434.64,381.08 L434.64,384.71 Z" fill="#cf9a20"/>
<path d="M438.77,371.85 L441.90,370.04 L441.90,373.67 Z" fill="#cf9a20"/>
<path d="M446.03,361.38 L449.17,359.57 L449.17,363.20 Z" fill="#cf9a20"/>
<path d="M453.30,352.08 L456.44,350.27 L456.44,353.90 Z" fill="#cf9a20"/>
<path d="M460.56,343.36 L463.70,341.54 L463.70,345.17 Z" fill="#cf9a20"/>
<path d="M467.83,335.22 L470.96,333.40 L470.96,337.03 Z" fill="#cf9a20"/>
<path d="M475.09,329.40 L478.23,327.59 L478.23,331.22 Z" fill="#cf9a20"/>
<path d="M482.36,329.98 L485.49,328.17 L485.49,331.80 Z" fill="#cf9a20"/>
<path d="M489.62,335.22 L492.76,333.40 L492.76,337.03 Z" fill="#cf9a20"/>
<path d="M496.89,341.61 L500.02,339.80 L500.02,343.43 Z" fill="#cf9a20"/>
<path d="M504.15,348.59 L507.29,346.78 L507.29,350.41 Z" fill="#cf9a20"/>
<path d="M511.42,355.57 L514.55,353.75 L514.55,357.38 Z" fill="#cf9a20"/>
<path d="M518.68,362.55 L521.82,360.73 L521.82,364.36 Z" fill="#cf9a20"/>
<path d="M525.95,368.94 L529.09,367.13 L529.09,370.76 Z" fill="#cf9a20"/>
<path d="M533.21,376.50 L536.35,374.69 L536.35,378.32 Z" fill="#cf9a20"/>
<path d="M540.48,385.23 L543.62,383.41 L543.62,387.04 Z" fill="#cf9a20"/>
<path d="M547.74,391.62 L550.88,389.81 L550.88,393.44 Z" fill="#cf9a20"/>
<path d="M555.01,398.60 L558.14,396.79 L558.14,400.42 Z" fill="#cf9a20"/>
<path d="M562.27,404.42 L565.41,402.60 L565.41,406.23 Z" fill="#cf9a20"/>
<path d="M569.54,410.81 L572.68,409.00 L572.68,412.63 Z" fill="#cf9a20"/>
<path d="M576.80,416.63 L579.94,414.81 L579.94,418.44 Z" fill="#cf9a20"/>
<path d="M584.07,421.28 L587.21,419.46 L587.21,423.09 Z" fill="#cf9a20"/>
<path d="M591.33,426.51 L594.47,424.70 L594.47,428.33 Z" fill="#cf9a20"/>
<path d="M598.60,431.75 L601.74,429.93 L601.74,433.56 Z" fill="#cf9a20"/>
<path d="M605.86,435.82 L609.00,434.00 L609.00,437.63 Z" fill="#cf9a20"/>
<path d="M613.13,439.31 L616.26,437.49 L616.26,441.12 Z" fill="#cf9a20"/>
<path d="M620.39,443.38 L623.53,441.56 L623.53,445.19 Z" fill="#cf9a20"/>
<path d="M627.66,446.87 L630.79,445.05 L630.79,448.68 Z" fill="#cf9a20"/>
<path d="M634.92,450.94 L638.06,449.12 L638.06,452.75 Z" fill="#cf9a20"/>
<path d="M637.83,450.94 L640.97,449.12 L640.97,452.75 Z" fill="#cf9a20"/>
<line x1="479.40" y1="265.60" x2="479.40" y2="499.20" stroke="#f0141e" stroke-width="2.6" stroke-dasharray="9 8.18"/>
<line x1="375.20" y1="266.60" x2="665.80" y2="266.60" stroke="#1a1a1a" stroke-width="1.3" />
<line x1="375.20" y1="499.20" x2="665.80" y2="499.20" stroke="#1a1a1a" stroke-width="1.3" />
<line x1="665.80" y1="266.60" x2="665.80" y2="499.20" stroke="#1a1a1a" stroke-width="1.3" />
<line x1="375.20" y1="266.60" x2="375.20" y2="499.20" stroke="#999" stroke-width="1.2" />
<line x1="375.20" y1="499.20" x2="375.20" y2="494.70" stroke="#1a1a1a" stroke-width="1.2" />
<line x1="375.20" y1="266.60" x2="375.20" y2="271.10" stroke="#1a1a1a" stroke-width="1.2" />
<line x1="447.85" y1="499.20" x2="447.85" y2="494.70" stroke="#1a1a1a" stroke-width="1.2" />
<line x1="447.85" y1="266.60" x2="447.85" y2="271.10" stroke="#1a1a1a" stroke-width="1.2" />
<line x1="520.50" y1="499.20" x2="520.50" y2="494.70" stroke="#1a1a1a" stroke-width="1.2" />
<line x1="520.50" y1="266.60" x2="520.50" y2="271.10" stroke="#1a1a1a" stroke-width="1.2" />
<line x1="593.15" y1="499.20" x2="593.15" y2="494.70" stroke="#1a1a1a" stroke-width="1.2" />
<line x1="593.15" y1="266.60" x2="593.15" y2="271.10" stroke="#1a1a1a" stroke-width="1.2" />
<line x1="665.80" y1="499.20" x2="665.80" y2="494.70" stroke="#1a1a1a" stroke-width="1.2" />
<line x1="665.80" y1="266.60" x2="665.80" y2="271.10" stroke="#1a1a1a" stroke-width="1.2" />
<text x="375.20" y="512.60" font-size="11.3" fill="#1a1a1a" stroke="#1a1a1a" stroke-width="0.15" text-anchor="middle" font-weight="normal" font-style="normal" >0</text>
<text x="447.85" y="512.60" font-size="11.3" fill="#1a1a1a" stroke="#1a1a1a" stroke-width="0.15" text-anchor="middle" font-weight="normal" font-style="normal" >500</text>
<text x="520.50" y="512.60" font-size="11.3" fill="#1a1a1a" stroke="#1a1a1a" stroke-width="0.15" text-anchor="middle" font-weight="normal" font-style="normal" >1000</text>
<text x="593.15" y="512.60" font-size="11.3" fill="#1a1a1a" stroke="#1a1a1a" stroke-width="0.15" text-anchor="middle" font-weight="normal" font-style="normal" >1500</text>
<text x="665.80" y="512.60" font-size="11.3" fill="#1a1a1a" stroke="#1a1a1a" stroke-width="0.15" text-anchor="middle" font-weight="normal" font-style="normal" >2000</text>
<line x1="375.20" y1="499.20" x2="380.00" y2="499.20" stroke="#1a1a1a" stroke-width="1.2" />
<line x1="665.80" y1="499.20" x2="661.00" y2="499.20" stroke="#1a1a1a" stroke-width="1.2" />
<line x1="375.20" y1="475.94" x2="380.00" y2="475.94" stroke="#1a1a1a" stroke-width="1.2" />
<line x1="665.80" y1="475.94" x2="661.00" y2="475.94" stroke="#1a1a1a" stroke-width="1.2" />
<line x1="375.20" y1="452.68" x2="380.00" y2="452.68" stroke="#1a1a1a" stroke-width="1.2" />
<line x1="665.80" y1="452.68" x2="661.00" y2="452.68" stroke="#1a1a1a" stroke-width="1.2" />
<line x1="375.20" y1="429.42" x2="380.00" y2="429.42" stroke="#1a1a1a" stroke-width="1.2" />
<line x1="665.80" y1="429.42" x2="661.00" y2="429.42" stroke="#1a1a1a" stroke-width="1.2" />
<line x1="375.20" y1="406.16" x2="380.00" y2="406.16" stroke="#1a1a1a" stroke-width="1.2" />
<line x1="665.80" y1="406.16" x2="661.00" y2="406.16" stroke="#1a1a1a" stroke-width="1.2" />
<line x1="375.20" y1="382.90" x2="380.00" y2="382.90" stroke="#1a1a1a" stroke-width="1.2" />
<line x1="665.80" y1="382.90" x2="661.00" y2="382.90" stroke="#1a1a1a" stroke-width="1.2" />
<line x1="375.20" y1="359.64" x2="380.00" y2="359.64" stroke="#1a1a1a" stroke-width="1.2" />
<line x1="665.80" y1="359.64" x2="661.00" y2="359.64" stroke="#1a1a1a" stroke-width="1.2" />
<line x1="375.20" y1="336.38" x2="380.00" y2="336.38" stroke="#1a1a1a" stroke-width="1.2" />
<line x1="665.80" y1="336.38" x2="661.00" y2="336.38" stroke="#1a1a1a" stroke-width="1.2" />
<line x1="375.20" y1="313.12" x2="380.00" y2="313.12" stroke="#1a1a1a" stroke-width="1.2" />
<line x1="665.80" y1="313.12" x2="661.00" y2="313.12" stroke="#1a1a1a" stroke-width="1.2" />
<line x1="375.20" y1="289.86" x2="380.00" y2="289.86" stroke="#1a1a1a" stroke-width="1.2" />
<line x1="665.80" y1="289.86" x2="661.00" y2="289.86" stroke="#1a1a1a" stroke-width="1.2" />
<line x1="375.20" y1="266.60" x2="380.00" y2="266.60" stroke="#1a1a1a" stroke-width="1.2" />
<line x1="665.80" y1="266.60" x2="661.00" y2="266.60" stroke="#1a1a1a" stroke-width="1.2" />
<text x="369.90" y="503.00" font-size="11.3" fill="#1a1a1a" stroke="#1a1a1a" stroke-width="0.15" text-anchor="end" font-weight="normal" font-style="normal" >24</text>
<text x="369.90" y="479.74" font-size="11.3" fill="#1a1a1a" stroke="#1a1a1a" stroke-width="0.15" text-anchor="end" font-weight="normal" font-style="normal" >28</text>
<text x="369.90" y="456.48" font-size="11.3" fill="#1a1a1a" stroke="#1a1a1a" stroke-width="0.15" text-anchor="end" font-weight="normal" font-style="normal" >32</text>
<text x="369.90" y="433.22" font-size="11.3" fill="#1a1a1a" stroke="#1a1a1a" stroke-width="0.15" text-anchor="end" font-weight="normal" font-style="normal" >36</text>
<text x="369.90" y="409.96" font-size="11.3" fill="#1a1a1a" stroke="#1a1a1a" stroke-width="0.15" text-anchor="end" font-weight="normal" font-style="normal" >40</text>
<text x="369.90" y="386.70" font-size="11.3" fill="#1a1a1a" stroke="#1a1a1a" stroke-width="0.15" text-anchor="end" font-weight="normal" font-style="normal" >44</text>
<text x="369.90" y="363.44" font-size="11.3" fill="#1a1a1a" stroke="#1a1a1a" stroke-width="0.15" text-anchor="end" font-weight="normal" font-style="normal" >48</text>
<text x="369.90" y="340.18" font-size="11.3" fill="#1a1a1a" stroke="#1a1a1a" stroke-width="0.15" text-anchor="end" font-weight="normal" font-style="normal" >52</text>
<text x="369.90" y="316.92" font-size="11.3" fill="#1a1a1a" stroke="#1a1a1a" stroke-width="0.15" text-anchor="end" font-weight="normal" font-style="normal" >56</text>
<text x="369.90" y="293.66" font-size="11.3" fill="#1a1a1a" stroke="#1a1a1a" stroke-width="0.15" text-anchor="end" font-weight="normal" font-style="normal" >60</text>
<text x="369.90" y="270.40" font-size="11.3" fill="#1a1a1a" stroke="#1a1a1a" stroke-width="0.15" text-anchor="end" font-weight="normal" font-style="normal" >64</text>
<text transform="translate(353.4,382.3) rotate(-90)" font-size="11.95" fill="#222" stroke="#222" stroke-width="0.15" text-anchor="middle">Temperature(°C)</text>
<text x="520.90" y="531.90" font-size="12.2" fill="#222" stroke="#222" stroke-width="0.15" text-anchor="middle" font-weight="normal" font-style="normal" >Time(s)</text>
<text x="478.70" y="264.30" font-size="12" fill="#f0141e" stroke="#f0141e" stroke-width="0.15" text-anchor="middle" font-weight="normal" font-style="normal" >704s</text>
<text x="410.70" y="285.30" font-size="12.6" fill="#222" stroke="#222" stroke-width="0.15" text-anchor="middle" font-weight="normal" font-style="normal" >4C</text>
<rect x="598.6" y="272.8" width="59.69999999999993" height="111.69999999999999" fill="#fff" stroke="#c8c8c8" stroke-width="1"/>
<line x1="600.30" y1="281.40" x2="627.00" y2="281.40" stroke="#d8d8d8" stroke-width="1" />
<rect x="611.90" y="279.70" width="3.40" height="3.40" fill="#3c3c3c"/>
<text x="630.4" y="285.90" font-size="12.2" fill="#1a1a1a" stroke="#1a1a1a" stroke-width="0.15" textLength="12.4" lengthAdjust="spacingAndGlyphs">T1</text>
<text x="643.40" y="289.30" font-size="11.2" fill="#1a1a1a" stroke="#1a1a1a" stroke-width="0.15" textLength="8.4" lengthAdjust="spacingAndGlyphs">in</text>
<line x1="600.30" y1="299.40" x2="627.00" y2="299.40" stroke="#f6b4b6" stroke-width="1" />
<circle cx="613.60" cy="299.40" r="1.70" fill="#e8333b"/>
<text x="630.4" y="303.90" font-size="12.2" fill="#1a1a1a" stroke="#1a1a1a" stroke-width="0.15" textLength="12.4" lengthAdjust="spacingAndGlyphs">T2</text>
<text x="643.40" y="307.30" font-size="11.2" fill="#1a1a1a" stroke="#1a1a1a" stroke-width="0.15" textLength="8.4" lengthAdjust="spacingAndGlyphs">in</text>
<line x1="600.30" y1="317.90" x2="627.00" y2="317.90" stroke="#c2d6f6" stroke-width="1" />
<path d="M613.60,316.03 L615.47,319.26 L611.73,319.26 Z" fill="#2b6fe6"/>
<text x="630.4" y="322.40" font-size="12.2" fill="#1a1a1a" stroke="#1a1a1a" stroke-width="0.15" textLength="12.4" lengthAdjust="spacingAndGlyphs">T3</text>
<text x="643.40" y="325.80" font-size="11.2" fill="#1a1a1a" stroke="#1a1a1a" stroke-width="0.15" textLength="8.4" lengthAdjust="spacingAndGlyphs">in</text>
<line x1="600.30" y1="336.10" x2="627.00" y2="336.10" stroke="#b8e4c8" stroke-width="1" />
<path d="M613.60,337.97 L615.47,334.74 L611.73,334.74 Z" fill="#2ea868"/>
<text x="630.4" y="340.60" font-size="12.2" fill="#1a1a1a" stroke="#1a1a1a" stroke-width="0.15" textLength="12.4" lengthAdjust="spacingAndGlyphs">T1</text>
<text x="643.40" y="344.00" font-size="11.2" fill="#1a1a1a" stroke="#1a1a1a" stroke-width="0.15" textLength="14.2" lengthAdjust="spacingAndGlyphs">out</text>
<line x1="600.30" y1="354.30" x2="627.00" y2="354.30" stroke="#e0ccf6" stroke-width="1" />
<path d="M613.60,352.26 L615.30,354.30 L613.60,356.34 L611.90,354.30 Z" fill="#a767e2"/>
<text x="630.4" y="358.80" font-size="12.2" fill="#1a1a1a" stroke="#1a1a1a" stroke-width="0.15" textLength="12.4" lengthAdjust="spacingAndGlyphs">T2</text>
<text x="643.40" y="362.20" font-size="11.2" fill="#1a1a1a" stroke="#1a1a1a" stroke-width="0.15" textLength="14.2" lengthAdjust="spacingAndGlyphs">out</text>
<line x1="600.30" y1="372.30" x2="627.00" y2="372.30" stroke="#ecd29a" stroke-width="1" />
<path d="M611.73,372.30 L614.96,370.43 L614.96,374.17 Z" fill="#cf9a20"/>
<text x="630.4" y="376.80" font-size="12.2" fill="#1a1a1a" stroke="#1a1a1a" stroke-width="0.15" textLength="12.4" lengthAdjust="spacingAndGlyphs">T3</text>
<text x="643.40" y="380.20" font-size="11.2" fill="#1a1a1a" stroke="#1a1a1a" stroke-width="0.15" textLength="14.2" lengthAdjust="spacingAndGlyphs">out</text>
<text x="584.80" y="289.20" font-size="17.5" fill="#111" stroke="#111" stroke-width="0.15" text-anchor="middle" font-weight="bold" font-style="normal" >(d)</text>
</svg>
</body></html>
